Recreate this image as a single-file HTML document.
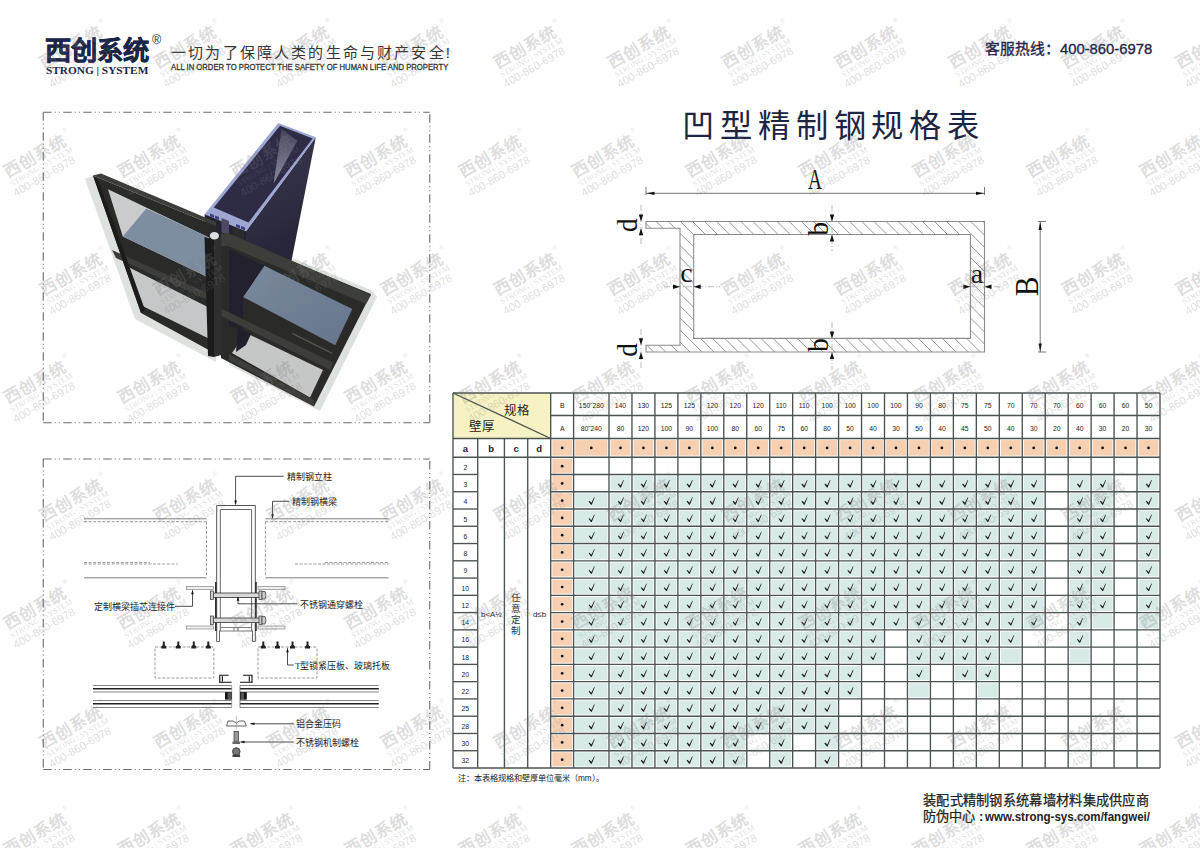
<!DOCTYPE html>
<html lang="zh-CN"><head><meta charset="utf-8">
<style>
html,body{margin:0;padding:0;}
body{width:1200px;height:848px;overflow:hidden;position:relative;background:#fff;font-family:"Liberation Sans",sans-serif;}
.abs{position:absolute;white-space:nowrap;}
svg{position:absolute;left:0;top:0;}
.grid line{stroke:#4a5252;stroke-width:1.35;}
.tn{font-size:7.9px;text-anchor:middle;fill:#1a1a1a;}
.ck{fill:#1a1a1a;} .st{fill:#111;}
.thd{font-size:12.5px;text-anchor:middle;fill:#222;font-weight:500;}
.tz{font-size:9.5px;text-anchor:middle;fill:#333;}
.tl{font-size:9.5px;text-anchor:middle;fill:#1a1a1a;font-weight:bold;}
.ts{font-size:9px;text-anchor:middle;fill:#111;}
.tc{font-size:10px;text-anchor:middle;fill:#222;}

.wm{position:absolute;width:0;height:0;transform:rotate(-30deg);transform-origin:0 0;pointer-events:none;z-index:50;color:rgba(125,125,125,0.27);}
.wm span{position:absolute;white-space:nowrap;}
.w1{left:-2.5px;top:-15px;font-size:16.5px;font-weight:bold;line-height:20px;}
.wr{left:68px;top:-17px;font-size:6px;line-height:8px;}
.w2{left:-3.5px;top:4px;font-family:"Liberation Serif",serif;font-size:8px;line-height:8px;letter-spacing:0.1px;}
.w3{left:-5.5px;top:11px;font-size:11.2px;line-height:12px;}

</style></head><body>
<div class="abs" id="logo" style="left:45px;top:33px;font-size:26.3px;font-weight:900;color:#1b2547;-webkit-text-stroke:0.6px #1b2547;line-height:36px;">西创系统</div>
<div class="abs" id="reg" style="left:152px;top:32.5px;font-size:12.5px;line-height:14px;color:#1b2547;">&#174;</div>
<div class="abs" id="strong" style="left:46px;top:64px;font-family:'Liberation Serif',serif;font-weight:bold;font-size:11.3px;color:#1b2547;line-height:13px;">STRONG | SYSTEM</div>
<div class="abs" id="tag" style="left:171px;top:43px;font-size:15px;font-weight:300;color:#333;letter-spacing:2.17px;line-height:20px;">一切为了保障人类的生命与财产安全!</div>
<div class="abs" id="tagen" style="left:171px;top:62.5px;transform-origin:0 0;transform:scaleX(0.866);font-size:8.9px;font-weight:normal;-webkit-text-stroke:0.3px #333;color:#333;line-height:9px;">ALL IN ORDER TO PROTECT THE SAFETY OF HUMAN LIFE AND PROPERTY</div>
<div class="abs" id="hot" style="left:985px;top:39px;font-size:14.8px;font-weight:500;-webkit-text-stroke:0.35px #1c2448;color:#1c2448;line-height:20px;">客服热线：400-860-6978</div>
<div class="abs" id="title" style="left:682px;top:104.5px;font-size:32.3px;color:#1c2541;letter-spacing:5.9px;line-height:42px;">凹型精制钢规格表</div>
<svg width="1200" height="848">
<path d="M43.25 112.25 L429.75 112.25" stroke="#6a6a6a" stroke-width="1.1" stroke-dasharray="8.5 3 1 3 1 3.5" fill="none"/><path d="M43.25 112.25 L43.25 422.75" stroke="#6a6a6a" stroke-width="1.1" stroke-dasharray="8.5 3 1 3 1 3.5" fill="none"/><path d="M43.25 422.75 L429.75 422.75" stroke="#6a6a6a" stroke-width="1.1" stroke-dasharray="8.5 3 1 3 1 3.5" fill="none"/><path d="M429.75 422.75 L429.75 112.25" stroke="#6a6a6a" stroke-width="1.1" stroke-dasharray="8.5 3 1 3 1 3.5" fill="none"/>
<path d="M43.25 459 L429.75 459" stroke="#6a6a6a" stroke-width="1.1" stroke-dasharray="8.5 3 1 3 1 3.5" fill="none"/><path d="M43.25 459 L43.25 769.5" stroke="#6a6a6a" stroke-width="1.1" stroke-dasharray="8.5 3 1 3 1 3.5" fill="none"/><path d="M43.25 769.5 L429.75 769.5" stroke="#6a6a6a" stroke-width="1.1" stroke-dasharray="8.5 3 1 3 1 3.5" fill="none"/><path d="M429.75 769.5 L429.75 459" stroke="#6a6a6a" stroke-width="1.1" stroke-dasharray="8.5 3 1 3 1 3.5" fill="none"/>
<defs><linearGradient id="colR" x1="0" y1="0" x2="0.3" y2="1"><stop offset="0" stop-color="#393852"/><stop offset="1" stop-color="#272638"/></linearGradient><linearGradient id="wedge" x1="0" y1="0" x2="0" y2="1"><stop offset="0" stop-color="#4a4964"/><stop offset="1" stop-color="#a3a2b6"/></linearGradient><linearGradient id="gB" x1="0" y1="0" x2="1" y2="1"><stop offset="0" stop-color="#7a899e"/><stop offset="1" stop-color="#66758b"/></linearGradient></defs>
<polygon points="85.0,179.0 93.0,175.6 141.0,313.0 216.0,354.0 216.0,362.0 135.0,319.0" fill="#dde2de" />
<polygon points="290.0,257.0 371.0,290.0 377.0,297.0 320.0,411.0 229.0,365.0 229.0,357.0 314.0,406.5 371.0,294.0 292.0,262.0" fill="#dde2de" />
<polygon points="315.8,137.3 291.2,262.3 246.0,245.0 246.0,231.2" fill="url(#colR)" />
<polygon points="278.2,123.0 315.8,137.3 246.0,231.2 204.6,214.3" fill="#9ea6d2" />
<polygon points="280.0,125.8 312.6,138.6 248.5,222.5 213.8,207.6" fill="#2d2b46" />
<polygon points="281.5,129.0 273.6,183.6 297.4,140.7" fill="url(#wedge)" opacity="0.8"/>
<polygon points="204.6,214.3 246.0,231.2 246.0,250.0 204.6,240.0" fill="#23222f" />
<polygon points="210.0,213.5 214.0,215.1 214.0,218.1 210.0,216.5" fill="#3c3f86" />
<polygon points="215.0,215.5 219.0,217.1 219.0,220.1 215.0,218.5" fill="#3c3f86" />
<polygon points="236.0,224.0 240.0,225.6 240.0,228.6 236.0,227.0" fill="#3c3f86" />
<polygon points="241.0,226.0 245.0,227.6 245.0,230.6 241.0,229.0" fill="#3c3f86" />
<polygon points="221.5,218.0 229.0,221.0 229.0,252.0 221.5,249.0" fill="#4b4a66" />
<polygon points="206.0,220.0 216.0,224.0 216.0,240.0 206.0,236.0" fill="#2b2b2e" />
<polygon points="233.0,227.0 244.0,231.5 244.0,247.0 233.0,243.0" fill="#2b2b2e" />
<polygon points="93.0,175.6 216.0,226.0 216.0,354.0 141.0,313.0" fill="#2a2a29" />
<polygon points="93.0,175.6 101.0,173.5 216.0,222.0 216.0,226.0" fill="#3d3d39" />
<polygon points="108.0,189.2 209.0,237.5 207.0,276.7 122.8,236.5" fill="#c9cccd" />
<polygon points="122.8,236.5 146.3,208.6 209.0,237.5 207.0,276.7" fill="#7f8da1" />
<polygon points="112.0,250.0 210.0,294.0 210.0,301.0 116.0,258.0" fill="#3d3d39" />
<polygon points="129.3,267.6 209.7,307.9 209.7,339.0 141.0,305.3" fill="#c5c8c8" />
<polygon points="93.0,175.6 99.0,182.0 145.0,310.0 141.0,313.0" fill="#1c1c1c" />
<polygon points="221.0,232.0 371.0,294.0 314.0,406.5 221.0,358.0" fill="#2a2a29" />
<polygon points="221.0,234.0 228.0,233.0 371.0,295.0 366.0,304.0 228.0,246.0 221.0,246.0" fill="#3d3d39" />
<polygon points="264.3,265.7 352.3,309.0 335.2,345.2 243.0,297.0" fill="url(#gB)" />
<polygon points="229.0,249.0 264.3,265.7 243.0,297.0 243.0,330.0 229.0,326.0" fill="#22212d" />
<polygon points="220.0,308.0 333.0,362.6 330.4,370.0 220.0,315.5" fill="#3d3d39" />
<polygon points="292.5,332.8 332.0,352.6 332.0,354.0 292.5,334.2" fill="#55554f" />
<polygon points="246.0,333.0 323.0,370.0 310.0,397.4 232.0,353.0" fill="#c4c7c6" />
<polygon points="238.0,328.0 251.0,334.0 246.0,345.0 236.0,352.0" fill="#1f1f2b" />
<polygon points="229.0,354.0 314.0,400.0 314.0,406.5 229.0,360.0" fill="#3d3d39" />
<polygon points="204.5,237.0 214.0,240.0 214.0,357.0 208.0,356.0" fill="#1b1b1d" />
<polygon points="214.0,240.0 221.4,237.0 221.4,355.0 214.0,357.0" fill="#2f2f31" />
<ellipse cx="214.4" cy="235.7" rx="4.6" ry="3.8" fill="#dcdedf"/>
<polyline points="283.8,476.3 235.6,476.3 235.6,504.5" stroke="#222" stroke-width="0.8" fill="none"/>
<path d="M235.6 505 L234.29999999999998 500.5 L236.9 500.5 Z" fill="#111"/>
<polyline points="289.5,501.3 272.5,501.3 272.5,518.3" stroke="#222" stroke-width="0.8" fill="none"/>
<path d="M272.5 518.8 L271.2 514.3 L273.8 514.3 Z" fill="#111"/>
<polyline points="216.7,641.5 216.7,505.5 255.3,505.5 255.3,641.5" stroke="#555" stroke-width="1" fill="none"/>
<polyline points="220.3,631 220.3,509.5 251.6,509.5 251.6,631" stroke="#555" stroke-width="0.9" fill="none"/>
<polyline points="220.3,631 219.5,631 219.5,641.5 216.7,641.5" stroke="#555" stroke-width="0.9" fill="none"/>
<polyline points="251.6,631 252.5,631 252.5,641.5 255.3,641.5" stroke="#555" stroke-width="0.9" fill="none"/>
<line x1="220.3" y1="627.5" x2="251.6" y2="627.5" stroke="#707070" stroke-width="0.9" fill="none"/>
<line x1="219.5" y1="631" x2="252.5" y2="631" stroke="#707070" stroke-width="0.9" fill="none"/>
<line x1="234" y1="627.5" x2="234" y2="631" stroke="#707070" stroke-width="0.9" fill="none"/>
<line x1="238" y1="627.5" x2="238" y2="631" stroke="#707070" stroke-width="0.9" fill="none"/>
<line x1="84" y1="518.8" x2="206.5" y2="518.8" stroke="#707070" stroke-width="0.9" fill="none"/>
<line x1="84" y1="521.7" x2="206.5" y2="521.7" stroke="#808080" stroke-width="0.8" fill="none" stroke-dasharray="3 1.6"/>
<line x1="206.5" y1="521.7" x2="206.5" y2="576.9" stroke="#808080" stroke-width="0.8" fill="none" stroke-dasharray="3 1.6"/>
<line x1="84" y1="577.8" x2="206.5" y2="577.8" stroke="#707070" stroke-width="0.9" fill="none"/>
<line x1="84" y1="564" x2="177.6" y2="564" stroke="#808080" stroke-width="0.8" fill="none" stroke-dasharray="3 1.6"/>
<line x1="84" y1="562.5" x2="150" y2="562.5" stroke="#808080" stroke-width="0.8" fill="none" stroke-dasharray="3 1.6"/>
<line x1="265.4" y1="518.8" x2="388.6" y2="518.8" stroke="#707070" stroke-width="0.9" fill="none"/>
<line x1="265.4" y1="521.7" x2="388.6" y2="521.7" stroke="#808080" stroke-width="0.8" fill="none" stroke-dasharray="3 1.6"/>
<line x1="265.4" y1="521.7" x2="265.4" y2="576.9" stroke="#808080" stroke-width="0.8" fill="none" stroke-dasharray="3 1.6"/>
<line x1="265.4" y1="577.8" x2="388.6" y2="577.8" stroke="#707070" stroke-width="0.9" fill="none"/>
<line x1="295" y1="564" x2="388.6" y2="564" stroke="#808080" stroke-width="0.8" fill="none" stroke-dasharray="3 1.6"/>
<line x1="325" y1="562.5" x2="388.6" y2="562.5" stroke="#808080" stroke-width="0.8" fill="none" stroke-dasharray="3 1.6"/>
<line x1="215.8" y1="582" x2="215.8" y2="631" stroke="#1a1a1a" stroke-width="1.4"/>
<line x1="256" y1="582" x2="256" y2="631" stroke="#1a1a1a" stroke-width="1.4"/>
<rect x="186.5" y="586.5" width="27" height="3" fill="#eee" stroke="#888" stroke-width="0.7"/>
<rect x="258" y="586.5" width="27" height="3" fill="#eee" stroke="#888" stroke-width="0.7"/>
<rect x="186.5" y="626" width="27" height="3" fill="#eee" stroke="#888" stroke-width="0.7"/>
<rect x="258" y="626" width="27" height="3" fill="#eee" stroke="#888" stroke-width="0.7"/>
<rect x="213" y="593" width="52" height="4.5" fill="#d8d8d8" stroke="#333" stroke-width="0.8"/>
<rect x="210.5" y="591" width="3" height="8.5" fill="#ccc" stroke="#333" stroke-width="0.7"/>
<rect x="259" y="591" width="3" height="8.5" fill="#ccc" stroke="#333" stroke-width="0.7"/>
<path d="M262 591.5 L265 591.5 Q267 595.25 265 599 L262 599 Z" fill="#ccc" stroke="#333" stroke-width="0.7"/>
<rect x="213" y="618" width="52" height="4.5" fill="#d8d8d8" stroke="#333" stroke-width="0.8"/>
<rect x="210.5" y="616" width="3" height="8.5" fill="#ccc" stroke="#333" stroke-width="0.7"/>
<rect x="259" y="616" width="3" height="8.5" fill="#ccc" stroke="#333" stroke-width="0.7"/>
<path d="M262 616.5 L265 616.5 Q267 620.25 265 624 L262 624 Z" fill="#ccc" stroke="#333" stroke-width="0.7"/>
<polyline points="175,606.3 192.5,606.3 192.5,590.5" stroke="#222" stroke-width="0.8" fill="none"/>
<path d="M192.5 589.8 L191.2 594.3 L193.8 594.3 Z" fill="#111"/>
<polyline points="297.5,603.8 238,603.8 238,597" stroke="#222" stroke-width="0.8" fill="none"/>
<path d="M238 596.3 L236.7 600.8 L239.3 600.8 Z" fill="#111"/>
<path d="M155 648.5 L155 678 L213.8 678 L213.8 648.5" stroke="#808080" stroke-width="0.8" fill="none" stroke-dasharray="3 1.6"/>
<line x1="155" y1="647" x2="213.8" y2="647" stroke="#808080" stroke-width="0.8" fill="none" stroke-dasharray="3 1.6"/>
<path d="M258 648.5 L258 678 L317 678 L317 648.5" stroke="#808080" stroke-width="0.8" fill="none" stroke-dasharray="3 1.6"/>
<line x1="258" y1="647" x2="317" y2="647" stroke="#808080" stroke-width="0.8" fill="none" stroke-dasharray="3 1.6"/>
<path d="M162.8 641.5 L164.8 641.5 L164.8 645 L166.3 646.5 L166.3 648.5 L161.3 648.5 L161.3 646.5 L162.8 645 Z" fill="#222"/>
<path d="M177.3 641.5 L179.3 641.5 L179.3 645 L180.8 646.5 L180.8 648.5 L175.8 648.5 L175.8 646.5 L177.3 645 Z" fill="#222"/>
<path d="M192.8 641.5 L194.8 641.5 L194.8 645 L196.3 646.5 L196.3 648.5 L191.3 648.5 L191.3 646.5 L192.8 645 Z" fill="#222"/>
<path d="M207.3 641.5 L209.3 641.5 L209.3 645 L210.8 646.5 L210.8 648.5 L205.8 648.5 L205.8 646.5 L207.3 645 Z" fill="#222"/>
<path d="M262.3 641.5 L264.3 641.5 L264.3 645 L265.8 646.5 L265.8 648.5 L260.8 648.5 L260.8 646.5 L262.3 645 Z" fill="#222"/>
<path d="M276.5 641.5 L278.5 641.5 L278.5 645 L280.0 646.5 L280.0 648.5 L275.0 648.5 L275.0 646.5 L276.5 645 Z" fill="#222"/>
<path d="M291.5 641.5 L293.5 641.5 L293.5 645 L295.0 646.5 L295.0 648.5 L290.0 648.5 L290.0 646.5 L291.5 645 Z" fill="#222"/>
<path d="M306.5 641.5 L308.5 641.5 L308.5 645 L310.0 646.5 L310.0 648.5 L305.0 648.5 L305.0 646.5 L306.5 645 Z" fill="#222"/>
<polyline points="293.8,665 287.5,665 287.5,648.5" stroke="#222" stroke-width="0.8" fill="none"/>
<path d="M287.5 647.8 L286.2 652.3 L288.8 652.3 Z" fill="#111"/>
<path d="M228.6 675.3 L219.8 675.3 L219.8 683 M219.8 682.2 L231.7 682.2 M222.4 676.3 L222.4 681.5" stroke="#111" stroke-width="1.1" fill="none"/>
<path d="M243.1 675.3 L252 675.3 L252 683 M252 682.2 L240 682.2 M249.3 676.3 L249.3 681.5" stroke="#111" stroke-width="1.1" fill="none"/>
<line x1="93" y1="685.5" x2="231.7" y2="685.5" stroke="#666" stroke-width="0.8"/>
<line x1="93" y1="688.8" x2="231.7" y2="688.8" stroke="#222" stroke-width="1.5"/>
<line x1="93" y1="692" x2="231.7" y2="692" stroke="#666" stroke-width="0.8"/>
<line x1="93" y1="700.5" x2="231.7" y2="700.5" stroke="#666" stroke-width="0.8"/>
<line x1="93" y1="703.8" x2="231.7" y2="703.8" stroke="#222" stroke-width="1.5"/>
<line x1="93" y1="707.5" x2="231.7" y2="707.5" stroke="#666" stroke-width="0.8"/>
<line x1="240" y1="685.5" x2="378.8" y2="685.5" stroke="#666" stroke-width="0.8"/>
<line x1="240" y1="688.8" x2="378.8" y2="688.8" stroke="#222" stroke-width="1.5"/>
<line x1="240" y1="692" x2="378.8" y2="692" stroke="#666" stroke-width="0.8"/>
<line x1="240" y1="700.5" x2="378.8" y2="700.5" stroke="#666" stroke-width="0.8"/>
<line x1="240" y1="703.8" x2="378.8" y2="703.8" stroke="#222" stroke-width="1.5"/>
<line x1="240" y1="707.5" x2="378.8" y2="707.5" stroke="#666" stroke-width="0.8"/>
<line x1="231.7" y1="685.5" x2="231.7" y2="707.5" stroke="#888" stroke-width="0.7"/>
<line x1="240" y1="685.5" x2="240" y2="707.5" stroke="#666" stroke-width="0.8"/>
<rect x="225" y="692.1" width="6.7" height="7.5" fill="#111"/><rect x="227.6" y="692.6" width="3.4" height="6.5" fill="#555"/>
<rect x="240" y="692.1" width="6.8" height="7.5" fill="#111"/><rect x="240.7" y="692.6" width="3.4" height="6.5" fill="#555"/>
<path d="M226.5 726 L228 721 L233 721 L236.3 723 L239.5 721 L244.5 721 L246.3 726 Z" fill="#f4f4f4" stroke="#444" stroke-width="0.8"/>
<line x1="236.3" y1="716" x2="236.3" y2="729" stroke="#999" stroke-width="0.6"/>
<polyline points="293.8,723.8 250.5,723.8" stroke="#222" stroke-width="0.8" fill="none"/>
<path d="M250 723.8 L254.5 722.5 L254.5 725.0999999999999 Z" fill="#111"/>
<rect x="234" y="731.3" width="4.6" height="10" fill="#999" stroke="#333" stroke-width="0.7"/>
<path d="M232.5 741.5 L240 741.5 L240 744 L232.5 744 Z" fill="#666"/>
<polyline points="293.8,742 240.5,742" stroke="#222" stroke-width="0.8" fill="none"/>
<path d="M240 742 L244.5 740.7 L244.5 743.3 Z" fill="#111"/>
<circle cx="236.3" cy="751.5" r="3.8" fill="#777" stroke="#333" stroke-width="0.8"/>
<rect x="232.5" y="754.5" width="7.6" height="2.5" fill="#444"/>
<text x="286.5" y="479.6" font-family="Liberation Serif, serif" font-size="9" fill="#222">精制钢立柱</text>
<text x="291.5" y="505.2" font-family="Liberation Serif, serif" font-size="9" fill="#222">精制钢横梁</text>
<text x="93.8" y="610.2" font-family="Liberation Serif, serif" font-size="9" fill="#222">定制横梁插芯连接件</text>
<text x="300" y="608" font-family="Liberation Serif, serif" font-size="9" fill="#222">不锈钢通穿螺栓</text>
<text x="295" y="668.5" font-family="Liberation Serif, serif" font-size="9" fill="#222">T型锁紧压板、玻璃托板</text>
<text x="295.5" y="727.2" font-family="Liberation Serif, serif" font-size="9" fill="#222">铝合金压码</text>
<text x="295.5" y="746" font-family="Liberation Serif, serif" font-size="9" fill="#222">不锈钢机制螺栓</text>
<defs><clipPath id="pc"><path d="M646.0 221.5 L984.5 221.5 L984.5 352.0 L646.0 352.0 L646.0 345.3 L680.0 345.3 L680.0 228.3 L646.0 228.3 Z M693.7 234.5 L970.4 234.5 L970.4 338.4 L693.7 338.4 Z" clip-rule="evenodd"/></clipPath></defs>
<path clip-path="url(#pc)" d="M506.0 216.5 L646.0 356.5 M518.1 216.5 L658.1 356.5 M530.2 216.5 L670.2 356.5 M542.3 216.5 L682.3 356.5 M554.4 216.5 L694.4 356.5 M566.5 216.5 L706.5 356.5 M578.6 216.5 L718.6 356.5 M590.7 216.5 L730.7 356.5 M602.8 216.5 L742.8 356.5 M614.9 216.5 L754.9 356.5 M627.0 216.5 L767.0 356.5 M639.1 216.5 L779.1 356.5 M651.2 216.5 L791.2 356.5 M663.3 216.5 L803.3 356.5 M675.4 216.5 L815.4 356.5 M687.5 216.5 L827.5 356.5 M699.6 216.5 L839.6 356.5 M711.7 216.5 L851.7 356.5 M723.8 216.5 L863.8 356.5 M735.9 216.5 L875.9 356.5 M748.0 216.5 L888.0 356.5 M760.1 216.5 L900.1 356.5 M772.2 216.5 L912.2 356.5 M784.3 216.5 L924.3 356.5 M796.4 216.5 L936.4 356.5 M808.5 216.5 L948.5 356.5 M820.6 216.5 L960.6 356.5 M832.7 216.5 L972.7 356.5 M844.8 216.5 L984.8 356.5 M856.9 216.5 L996.9 356.5 M869.0 216.5 L1009.0 356.5 M881.1 216.5 L1021.1 356.5 M893.2 216.5 L1033.2 356.5 M905.3 216.5 L1045.3 356.5 M917.4 216.5 L1057.4 356.5 M929.5 216.5 L1069.5 356.5 M941.6 216.5 L1081.6 356.5 M953.7 216.5 L1093.7 356.5 M965.8 216.5 L1105.8 356.5 M977.9 216.5 L1117.9 356.5 M990.0 216.5 L1130.0 356.5" stroke="#8a8a8a" stroke-width="0.9" fill="none"/>
<path d="M646.0 221.5 L984.5 221.5 L984.5 352.0 L646.0 352.0 L646.0 345.3 L680.0 345.3 L680.0 228.3 L646.0 228.3 Z M693.7 234.5 L970.4 234.5 L970.4 338.4 L693.7 338.4 Z" fill="none" stroke="#8c8c8c" stroke-width="1.1"/>
<line x1="641" y1="205" x2="641" y2="245" stroke="#aaa" stroke-width="0.8" stroke-dasharray="6 2 1 2"/>
<line x1="641" y1="329" x2="641" y2="370" stroke="#aaa" stroke-width="0.8" stroke-dasharray="6 2 1 2"/>
<path d="M641 221.5 L638.8 214.5 L643.2 214.5 Z" fill="#111"/>
<path d="M641 228.3 L638.8 235.3 L643.2 235.3 Z" fill="#111"/>
<path d="M641 345.3 L638.8 338.3 L643.2 338.3 Z" fill="#111"/>
<path d="M641 352.0 L638.8 359.0 L643.2 359.0 Z" fill="#111"/>
<line x1="832" y1="205" x2="832" y2="251" stroke="#aaa" stroke-width="0.8" stroke-dasharray="6 2 1 2"/>
<line x1="832" y1="322" x2="832" y2="370" stroke="#aaa" stroke-width="0.8" stroke-dasharray="6 2 1 2"/>
<path d="M832 221.5 L829.8 214.5 L834.2 214.5 Z" fill="#111"/>
<path d="M832 234.5 L829.8 241.5 L834.2 241.5 Z" fill="#111"/>
<path d="M832 338.4 L829.8 331.4 L834.2 331.4 Z" fill="#111"/>
<path d="M832 352.0 L829.8 359.0 L834.2 359.0 Z" fill="#111"/>
<line x1="664" y1="286.7" x2="720" y2="286.7" stroke="#aaa" stroke-width="0.8" stroke-dasharray="6 2 1 2"/>
<path d="M680.0 286.7 L673.0 284.5 L673.0 288.9 Z" fill="#111"/>
<path d="M693.7 286.7 L700.7 284.5 L700.7 288.9 Z" fill="#111"/>
<line x1="961" y1="286.8" x2="1002" y2="286.8" stroke="#aaa" stroke-width="0.8" stroke-dasharray="6 2 1 2"/>
<path d="M970.4 286.8 L963.4 284.6 L963.4 289.0 Z" fill="#111"/>
<path d="M984.5 286.8 L991.5 284.6 L991.5 289.0 Z" fill="#111"/>
<line x1="646.0" y1="193.3" x2="984.5" y2="193.3" stroke="#555" stroke-width="0.8"/>
<line x1="646.0" y1="187" x2="646.0" y2="195" stroke="#555" stroke-width="0.8"/>
<line x1="984.5" y1="187" x2="984.5" y2="195" stroke="#555" stroke-width="0.8"/>
<path d="M646.5 193.3 L654.5 191.70000000000002 L654.5 194.9 Z" fill="#111"/>
<path d="M984.0 193.3 L976.0 191.70000000000002 L976.0 194.9 Z" fill="#111"/>
<line x1="1040.2" y1="221.5" x2="1040.2" y2="352.0" stroke="#555" stroke-width="0.8"/>
<line x1="1038" y1="221.5" x2="1046" y2="221.5" stroke="#555" stroke-width="0.8"/>
<line x1="1038" y1="352.0" x2="1046" y2="352.0" stroke="#555" stroke-width="0.8"/>
<path d="M1040.2 222.0 L1038.6000000000001 230.0 L1041.8 230.0 Z" fill="#111"/>
<path d="M1040.2 351.5 L1038.6000000000001 343.5 L1041.8 343.5 Z" fill="#111"/>
<text x="0" y="0" font-size="28.5" font-family="Liberation Serif, serif" fill="#111" text-anchor="middle" transform="translate(815 189.2) scale(0.68 1)">A</text>
<text x="0" y="0" font-size="33" font-family="Liberation Serif, serif" fill="#111" text-anchor="middle" transform="translate(1037.7 286.3) rotate(-90) scale(0.88 1)">B</text>
<text x="0" y="0" font-size="28" font-family="Liberation Serif, serif" fill="#111" text-anchor="middle" transform="translate(977 282.6) scale(1.0 1)">a</text>
<text x="0" y="0" font-size="28" font-family="Liberation Serif, serif" fill="#111" text-anchor="middle" transform="translate(686.5 282.3) scale(1.0 1)">c</text>
<text x="0" y="0" font-size="30" font-family="Liberation Serif, serif" fill="#111" text-anchor="middle" transform="translate(827.8 228.8) rotate(-90) scale(0.9 1)">b</text>
<text x="0" y="0" font-size="30" font-family="Liberation Serif, serif" fill="#111" text-anchor="middle" transform="translate(827.8 344.9) rotate(-90) scale(0.9 1)">b</text>
<text x="0" y="0" font-size="30" font-family="Liberation Serif, serif" fill="#111" text-anchor="middle" transform="translate(637 225.2) rotate(-90) scale(0.9 1)">d</text>
<text x="0" y="0" font-size="30" font-family="Liberation Serif, serif" fill="#111" text-anchor="middle" transform="translate(637 349.9) rotate(-90) scale(0.9 1)">d</text>
</svg>
<svg width="1200" height="848" class="grid">
<rect x="453" y="393" width="97.70000000000005" height="45.5" fill="#f6f2c3"/>
<rect x="552.30" y="440.10" width="19.70" height="15.50" fill="#f7d0b2"/>
<rect x="575.20" y="440.10" width="32.20" height="15.50" fill="#f7d0b2"/>
<rect x="610.60" y="440.10" width="19.76" height="15.50" fill="#f7d0b2"/>
<rect x="633.56" y="440.10" width="19.76" height="15.50" fill="#f7d0b2"/>
<rect x="656.52" y="440.10" width="19.76" height="15.50" fill="#f7d0b2"/>
<rect x="679.48" y="440.10" width="19.76" height="15.50" fill="#f7d0b2"/>
<rect x="702.43" y="440.10" width="19.76" height="15.50" fill="#f7d0b2"/>
<rect x="725.39" y="440.10" width="19.76" height="15.50" fill="#f7d0b2"/>
<rect x="748.35" y="440.10" width="19.76" height="15.50" fill="#f7d0b2"/>
<rect x="771.31" y="440.10" width="19.76" height="15.50" fill="#f7d0b2"/>
<rect x="794.27" y="440.10" width="19.76" height="15.50" fill="#f7d0b2"/>
<rect x="817.23" y="440.10" width="19.76" height="15.50" fill="#f7d0b2"/>
<rect x="840.18" y="440.10" width="19.76" height="15.50" fill="#f7d0b2"/>
<rect x="863.14" y="440.10" width="19.76" height="15.50" fill="#f7d0b2"/>
<rect x="886.10" y="440.10" width="19.76" height="15.50" fill="#f7d0b2"/>
<rect x="909.06" y="440.10" width="19.76" height="15.50" fill="#f7d0b2"/>
<rect x="932.02" y="440.10" width="19.76" height="15.50" fill="#f7d0b2"/>
<rect x="954.98" y="440.10" width="19.76" height="15.50" fill="#f7d0b2"/>
<rect x="977.93" y="440.10" width="19.76" height="15.50" fill="#f7d0b2"/>
<rect x="1000.89" y="440.10" width="19.76" height="15.50" fill="#f7d0b2"/>
<rect x="1023.85" y="440.10" width="19.76" height="15.50" fill="#f7d0b2"/>
<rect x="1046.81" y="440.10" width="19.76" height="15.50" fill="#f7d0b2"/>
<rect x="1069.77" y="440.10" width="19.76" height="15.50" fill="#f7d0b2"/>
<rect x="1092.72" y="440.10" width="19.76" height="15.50" fill="#f7d0b2"/>
<rect x="1115.68" y="440.10" width="19.76" height="15.50" fill="#f7d0b2"/>
<rect x="1138.64" y="440.10" width="19.76" height="15.50" fill="#f7d0b2"/>
<rect x="552.30" y="458.80" width="19.70" height="14.07" fill="#f7d0b2"/>
<rect x="552.30" y="476.07" width="19.70" height="14.07" fill="#f7d0b2"/>
<rect x="610.60" y="476.07" width="19.76" height="14.07" fill="#d8eae8"/>
<rect x="633.56" y="476.07" width="19.76" height="14.07" fill="#d8eae8"/>
<rect x="656.52" y="476.07" width="19.76" height="14.07" fill="#d8eae8"/>
<rect x="679.48" y="476.07" width="19.76" height="14.07" fill="#d8eae8"/>
<rect x="702.43" y="476.07" width="19.76" height="14.07" fill="#d8eae8"/>
<rect x="725.39" y="476.07" width="19.76" height="14.07" fill="#d8eae8"/>
<rect x="748.35" y="476.07" width="19.76" height="14.07" fill="#d8eae8"/>
<rect x="771.31" y="476.07" width="19.76" height="14.07" fill="#d8eae8"/>
<rect x="794.27" y="476.07" width="19.76" height="14.07" fill="#d8eae8"/>
<rect x="817.23" y="476.07" width="19.76" height="14.07" fill="#d8eae8"/>
<rect x="840.18" y="476.07" width="19.76" height="14.07" fill="#d8eae8"/>
<rect x="863.14" y="476.07" width="19.76" height="14.07" fill="#d8eae8"/>
<rect x="886.10" y="476.07" width="19.76" height="14.07" fill="#d8eae8"/>
<rect x="909.06" y="476.07" width="19.76" height="14.07" fill="#d8eae8"/>
<rect x="932.02" y="476.07" width="19.76" height="14.07" fill="#d8eae8"/>
<rect x="954.98" y="476.07" width="19.76" height="14.07" fill="#d8eae8"/>
<rect x="977.93" y="476.07" width="19.76" height="14.07" fill="#d8eae8"/>
<rect x="1000.89" y="476.07" width="19.76" height="14.07" fill="#d8eae8"/>
<rect x="1023.85" y="476.07" width="19.76" height="14.07" fill="#d8eae8"/>
<rect x="1069.77" y="476.07" width="19.76" height="14.07" fill="#d8eae8"/>
<rect x="1092.72" y="476.07" width="19.76" height="14.07" fill="#d8eae8"/>
<rect x="1138.64" y="476.07" width="19.76" height="14.07" fill="#d8eae8"/>
<rect x="552.30" y="493.33" width="19.70" height="14.07" fill="#f7d0b2"/>
<rect x="575.20" y="493.33" width="32.20" height="14.07" fill="#d8eae8"/>
<rect x="610.60" y="493.33" width="19.76" height="14.07" fill="#d8eae8"/>
<rect x="633.56" y="493.33" width="19.76" height="14.07" fill="#d8eae8"/>
<rect x="656.52" y="493.33" width="19.76" height="14.07" fill="#d8eae8"/>
<rect x="679.48" y="493.33" width="19.76" height="14.07" fill="#d8eae8"/>
<rect x="702.43" y="493.33" width="19.76" height="14.07" fill="#d8eae8"/>
<rect x="725.39" y="493.33" width="19.76" height="14.07" fill="#d8eae8"/>
<rect x="748.35" y="493.33" width="19.76" height="14.07" fill="#d8eae8"/>
<rect x="771.31" y="493.33" width="19.76" height="14.07" fill="#d8eae8"/>
<rect x="794.27" y="493.33" width="19.76" height="14.07" fill="#d8eae8"/>
<rect x="817.23" y="493.33" width="19.76" height="14.07" fill="#d8eae8"/>
<rect x="840.18" y="493.33" width="19.76" height="14.07" fill="#d8eae8"/>
<rect x="863.14" y="493.33" width="19.76" height="14.07" fill="#d8eae8"/>
<rect x="886.10" y="493.33" width="19.76" height="14.07" fill="#d8eae8"/>
<rect x="909.06" y="493.33" width="19.76" height="14.07" fill="#d8eae8"/>
<rect x="932.02" y="493.33" width="19.76" height="14.07" fill="#d8eae8"/>
<rect x="954.98" y="493.33" width="19.76" height="14.07" fill="#d8eae8"/>
<rect x="977.93" y="493.33" width="19.76" height="14.07" fill="#d8eae8"/>
<rect x="1000.89" y="493.33" width="19.76" height="14.07" fill="#d8eae8"/>
<rect x="1023.85" y="493.33" width="19.76" height="14.07" fill="#d8eae8"/>
<rect x="1069.77" y="493.33" width="19.76" height="14.07" fill="#d8eae8"/>
<rect x="1092.72" y="493.33" width="19.76" height="14.07" fill="#d8eae8"/>
<rect x="1138.64" y="493.33" width="19.76" height="14.07" fill="#d8eae8"/>
<rect x="552.30" y="510.60" width="19.70" height="14.07" fill="#f7d0b2"/>
<rect x="575.20" y="510.60" width="32.20" height="14.07" fill="#d8eae8"/>
<rect x="610.60" y="510.60" width="19.76" height="14.07" fill="#d8eae8"/>
<rect x="633.56" y="510.60" width="19.76" height="14.07" fill="#d8eae8"/>
<rect x="656.52" y="510.60" width="19.76" height="14.07" fill="#d8eae8"/>
<rect x="679.48" y="510.60" width="19.76" height="14.07" fill="#d8eae8"/>
<rect x="702.43" y="510.60" width="19.76" height="14.07" fill="#d8eae8"/>
<rect x="725.39" y="510.60" width="19.76" height="14.07" fill="#d8eae8"/>
<rect x="748.35" y="510.60" width="19.76" height="14.07" fill="#d8eae8"/>
<rect x="771.31" y="510.60" width="19.76" height="14.07" fill="#d8eae8"/>
<rect x="794.27" y="510.60" width="19.76" height="14.07" fill="#d8eae8"/>
<rect x="817.23" y="510.60" width="19.76" height="14.07" fill="#d8eae8"/>
<rect x="840.18" y="510.60" width="19.76" height="14.07" fill="#d8eae8"/>
<rect x="863.14" y="510.60" width="19.76" height="14.07" fill="#d8eae8"/>
<rect x="886.10" y="510.60" width="19.76" height="14.07" fill="#d8eae8"/>
<rect x="909.06" y="510.60" width="19.76" height="14.07" fill="#d8eae8"/>
<rect x="932.02" y="510.60" width="19.76" height="14.07" fill="#d8eae8"/>
<rect x="954.98" y="510.60" width="19.76" height="14.07" fill="#d8eae8"/>
<rect x="977.93" y="510.60" width="19.76" height="14.07" fill="#d8eae8"/>
<rect x="1000.89" y="510.60" width="19.76" height="14.07" fill="#d8eae8"/>
<rect x="1023.85" y="510.60" width="19.76" height="14.07" fill="#d8eae8"/>
<rect x="1069.77" y="510.60" width="19.76" height="14.07" fill="#d8eae8"/>
<rect x="1092.72" y="510.60" width="19.76" height="14.07" fill="#d8eae8"/>
<rect x="1138.64" y="510.60" width="19.76" height="14.07" fill="#d8eae8"/>
<rect x="552.30" y="527.87" width="19.70" height="14.07" fill="#f7d0b2"/>
<rect x="575.20" y="527.87" width="32.20" height="14.07" fill="#d8eae8"/>
<rect x="610.60" y="527.87" width="19.76" height="14.07" fill="#d8eae8"/>
<rect x="633.56" y="527.87" width="19.76" height="14.07" fill="#d8eae8"/>
<rect x="656.52" y="527.87" width="19.76" height="14.07" fill="#d8eae8"/>
<rect x="679.48" y="527.87" width="19.76" height="14.07" fill="#d8eae8"/>
<rect x="702.43" y="527.87" width="19.76" height="14.07" fill="#d8eae8"/>
<rect x="725.39" y="527.87" width="19.76" height="14.07" fill="#d8eae8"/>
<rect x="748.35" y="527.87" width="19.76" height="14.07" fill="#d8eae8"/>
<rect x="771.31" y="527.87" width="19.76" height="14.07" fill="#d8eae8"/>
<rect x="794.27" y="527.87" width="19.76" height="14.07" fill="#d8eae8"/>
<rect x="817.23" y="527.87" width="19.76" height="14.07" fill="#d8eae8"/>
<rect x="840.18" y="527.87" width="19.76" height="14.07" fill="#d8eae8"/>
<rect x="863.14" y="527.87" width="19.76" height="14.07" fill="#d8eae8"/>
<rect x="886.10" y="527.87" width="19.76" height="14.07" fill="#d8eae8"/>
<rect x="909.06" y="527.87" width="19.76" height="14.07" fill="#d8eae8"/>
<rect x="932.02" y="527.87" width="19.76" height="14.07" fill="#d8eae8"/>
<rect x="954.98" y="527.87" width="19.76" height="14.07" fill="#d8eae8"/>
<rect x="977.93" y="527.87" width="19.76" height="14.07" fill="#d8eae8"/>
<rect x="1000.89" y="527.87" width="19.76" height="14.07" fill="#d8eae8"/>
<rect x="1023.85" y="527.87" width="19.76" height="14.07" fill="#d8eae8"/>
<rect x="1069.77" y="527.87" width="19.76" height="14.07" fill="#d8eae8"/>
<rect x="1092.72" y="527.87" width="19.76" height="14.07" fill="#d8eae8"/>
<rect x="1138.64" y="527.87" width="19.76" height="14.07" fill="#d8eae8"/>
<rect x="552.30" y="545.13" width="19.70" height="14.07" fill="#f7d0b2"/>
<rect x="575.20" y="545.13" width="32.20" height="14.07" fill="#d8eae8"/>
<rect x="610.60" y="545.13" width="19.76" height="14.07" fill="#d8eae8"/>
<rect x="633.56" y="545.13" width="19.76" height="14.07" fill="#d8eae8"/>
<rect x="656.52" y="545.13" width="19.76" height="14.07" fill="#d8eae8"/>
<rect x="679.48" y="545.13" width="19.76" height="14.07" fill="#d8eae8"/>
<rect x="702.43" y="545.13" width="19.76" height="14.07" fill="#d8eae8"/>
<rect x="725.39" y="545.13" width="19.76" height="14.07" fill="#d8eae8"/>
<rect x="748.35" y="545.13" width="19.76" height="14.07" fill="#d8eae8"/>
<rect x="771.31" y="545.13" width="19.76" height="14.07" fill="#d8eae8"/>
<rect x="794.27" y="545.13" width="19.76" height="14.07" fill="#d8eae8"/>
<rect x="817.23" y="545.13" width="19.76" height="14.07" fill="#d8eae8"/>
<rect x="840.18" y="545.13" width="19.76" height="14.07" fill="#d8eae8"/>
<rect x="863.14" y="545.13" width="19.76" height="14.07" fill="#d8eae8"/>
<rect x="886.10" y="545.13" width="19.76" height="14.07" fill="#d8eae8"/>
<rect x="909.06" y="545.13" width="19.76" height="14.07" fill="#d8eae8"/>
<rect x="932.02" y="545.13" width="19.76" height="14.07" fill="#d8eae8"/>
<rect x="954.98" y="545.13" width="19.76" height="14.07" fill="#d8eae8"/>
<rect x="977.93" y="545.13" width="19.76" height="14.07" fill="#d8eae8"/>
<rect x="1000.89" y="545.13" width="19.76" height="14.07" fill="#d8eae8"/>
<rect x="1023.85" y="545.13" width="19.76" height="14.07" fill="#d8eae8"/>
<rect x="1069.77" y="545.13" width="19.76" height="14.07" fill="#d8eae8"/>
<rect x="1092.72" y="545.13" width="19.76" height="14.07" fill="#d8eae8"/>
<rect x="1138.64" y="545.13" width="19.76" height="14.07" fill="#d8eae8"/>
<rect x="552.30" y="562.40" width="19.70" height="14.07" fill="#f7d0b2"/>
<rect x="575.20" y="562.40" width="32.20" height="14.07" fill="#d8eae8"/>
<rect x="610.60" y="562.40" width="19.76" height="14.07" fill="#d8eae8"/>
<rect x="633.56" y="562.40" width="19.76" height="14.07" fill="#d8eae8"/>
<rect x="656.52" y="562.40" width="19.76" height="14.07" fill="#d8eae8"/>
<rect x="679.48" y="562.40" width="19.76" height="14.07" fill="#d8eae8"/>
<rect x="702.43" y="562.40" width="19.76" height="14.07" fill="#d8eae8"/>
<rect x="725.39" y="562.40" width="19.76" height="14.07" fill="#d8eae8"/>
<rect x="748.35" y="562.40" width="19.76" height="14.07" fill="#d8eae8"/>
<rect x="771.31" y="562.40" width="19.76" height="14.07" fill="#d8eae8"/>
<rect x="794.27" y="562.40" width="19.76" height="14.07" fill="#d8eae8"/>
<rect x="817.23" y="562.40" width="19.76" height="14.07" fill="#d8eae8"/>
<rect x="840.18" y="562.40" width="19.76" height="14.07" fill="#d8eae8"/>
<rect x="863.14" y="562.40" width="19.76" height="14.07" fill="#d8eae8"/>
<rect x="886.10" y="562.40" width="19.76" height="14.07" fill="#d8eae8"/>
<rect x="909.06" y="562.40" width="19.76" height="14.07" fill="#d8eae8"/>
<rect x="932.02" y="562.40" width="19.76" height="14.07" fill="#d8eae8"/>
<rect x="954.98" y="562.40" width="19.76" height="14.07" fill="#d8eae8"/>
<rect x="977.93" y="562.40" width="19.76" height="14.07" fill="#d8eae8"/>
<rect x="1000.89" y="562.40" width="19.76" height="14.07" fill="#d8eae8"/>
<rect x="1023.85" y="562.40" width="19.76" height="14.07" fill="#d8eae8"/>
<rect x="1069.77" y="562.40" width="19.76" height="14.07" fill="#d8eae8"/>
<rect x="1092.72" y="562.40" width="19.76" height="14.07" fill="#d8eae8"/>
<rect x="1138.64" y="562.40" width="19.76" height="14.07" fill="#d8eae8"/>
<rect x="552.30" y="579.67" width="19.70" height="14.07" fill="#f7d0b2"/>
<rect x="575.20" y="579.67" width="32.20" height="14.07" fill="#d8eae8"/>
<rect x="610.60" y="579.67" width="19.76" height="14.07" fill="#d8eae8"/>
<rect x="633.56" y="579.67" width="19.76" height="14.07" fill="#d8eae8"/>
<rect x="656.52" y="579.67" width="19.76" height="14.07" fill="#d8eae8"/>
<rect x="679.48" y="579.67" width="19.76" height="14.07" fill="#d8eae8"/>
<rect x="702.43" y="579.67" width="19.76" height="14.07" fill="#d8eae8"/>
<rect x="725.39" y="579.67" width="19.76" height="14.07" fill="#d8eae8"/>
<rect x="748.35" y="579.67" width="19.76" height="14.07" fill="#d8eae8"/>
<rect x="771.31" y="579.67" width="19.76" height="14.07" fill="#d8eae8"/>
<rect x="794.27" y="579.67" width="19.76" height="14.07" fill="#d8eae8"/>
<rect x="817.23" y="579.67" width="19.76" height="14.07" fill="#d8eae8"/>
<rect x="840.18" y="579.67" width="19.76" height="14.07" fill="#d8eae8"/>
<rect x="863.14" y="579.67" width="19.76" height="14.07" fill="#d8eae8"/>
<rect x="886.10" y="579.67" width="19.76" height="14.07" fill="#d8eae8"/>
<rect x="909.06" y="579.67" width="19.76" height="14.07" fill="#d8eae8"/>
<rect x="932.02" y="579.67" width="19.76" height="14.07" fill="#d8eae8"/>
<rect x="954.98" y="579.67" width="19.76" height="14.07" fill="#d8eae8"/>
<rect x="977.93" y="579.67" width="19.76" height="14.07" fill="#d8eae8"/>
<rect x="1000.89" y="579.67" width="19.76" height="14.07" fill="#d8eae8"/>
<rect x="1023.85" y="579.67" width="19.76" height="14.07" fill="#d8eae8"/>
<rect x="1069.77" y="579.67" width="19.76" height="14.07" fill="#d8eae8"/>
<rect x="1092.72" y="579.67" width="19.76" height="14.07" fill="#d8eae8"/>
<rect x="1138.64" y="579.67" width="19.76" height="14.07" fill="#d8eae8"/>
<rect x="552.30" y="596.93" width="19.70" height="14.07" fill="#f7d0b2"/>
<rect x="575.20" y="596.93" width="32.20" height="14.07" fill="#d8eae8"/>
<rect x="610.60" y="596.93" width="19.76" height="14.07" fill="#d8eae8"/>
<rect x="633.56" y="596.93" width="19.76" height="14.07" fill="#d8eae8"/>
<rect x="656.52" y="596.93" width="19.76" height="14.07" fill="#d8eae8"/>
<rect x="679.48" y="596.93" width="19.76" height="14.07" fill="#d8eae8"/>
<rect x="702.43" y="596.93" width="19.76" height="14.07" fill="#d8eae8"/>
<rect x="725.39" y="596.93" width="19.76" height="14.07" fill="#d8eae8"/>
<rect x="748.35" y="596.93" width="19.76" height="14.07" fill="#d8eae8"/>
<rect x="771.31" y="596.93" width="19.76" height="14.07" fill="#d8eae8"/>
<rect x="794.27" y="596.93" width="19.76" height="14.07" fill="#d8eae8"/>
<rect x="817.23" y="596.93" width="19.76" height="14.07" fill="#d8eae8"/>
<rect x="840.18" y="596.93" width="19.76" height="14.07" fill="#d8eae8"/>
<rect x="863.14" y="596.93" width="19.76" height="14.07" fill="#d8eae8"/>
<rect x="886.10" y="596.93" width="19.76" height="14.07" fill="#d8eae8"/>
<rect x="909.06" y="596.93" width="19.76" height="14.07" fill="#d8eae8"/>
<rect x="932.02" y="596.93" width="19.76" height="14.07" fill="#d8eae8"/>
<rect x="954.98" y="596.93" width="19.76" height="14.07" fill="#d8eae8"/>
<rect x="977.93" y="596.93" width="19.76" height="14.07" fill="#d8eae8"/>
<rect x="1000.89" y="596.93" width="19.76" height="14.07" fill="#d8eae8"/>
<rect x="1023.85" y="596.93" width="19.76" height="14.07" fill="#d8eae8"/>
<rect x="1069.77" y="596.93" width="19.76" height="14.07" fill="#d8eae8"/>
<rect x="1092.72" y="596.93" width="19.76" height="14.07" fill="#d8eae8"/>
<rect x="1138.64" y="596.93" width="19.76" height="14.07" fill="#d8eae8"/>
<rect x="552.30" y="614.20" width="19.70" height="14.07" fill="#f7d0b2"/>
<rect x="575.20" y="614.20" width="32.20" height="14.07" fill="#d8eae8"/>
<rect x="610.60" y="614.20" width="19.76" height="14.07" fill="#d8eae8"/>
<rect x="633.56" y="614.20" width="19.76" height="14.07" fill="#d8eae8"/>
<rect x="656.52" y="614.20" width="19.76" height="14.07" fill="#d8eae8"/>
<rect x="679.48" y="614.20" width="19.76" height="14.07" fill="#d8eae8"/>
<rect x="702.43" y="614.20" width="19.76" height="14.07" fill="#d8eae8"/>
<rect x="725.39" y="614.20" width="19.76" height="14.07" fill="#d8eae8"/>
<rect x="748.35" y="614.20" width="19.76" height="14.07" fill="#d8eae8"/>
<rect x="771.31" y="614.20" width="19.76" height="14.07" fill="#d8eae8"/>
<rect x="794.27" y="614.20" width="19.76" height="14.07" fill="#d8eae8"/>
<rect x="817.23" y="614.20" width="19.76" height="14.07" fill="#d8eae8"/>
<rect x="840.18" y="614.20" width="19.76" height="14.07" fill="#d8eae8"/>
<rect x="863.14" y="614.20" width="19.76" height="14.07" fill="#d8eae8"/>
<rect x="886.10" y="614.20" width="19.76" height="14.07" fill="#d8eae8"/>
<rect x="909.06" y="614.20" width="19.76" height="14.07" fill="#d8eae8"/>
<rect x="932.02" y="614.20" width="19.76" height="14.07" fill="#d8eae8"/>
<rect x="954.98" y="614.20" width="19.76" height="14.07" fill="#d8eae8"/>
<rect x="977.93" y="614.20" width="19.76" height="14.07" fill="#d8eae8"/>
<rect x="1000.89" y="614.20" width="19.76" height="14.07" fill="#d8eae8"/>
<rect x="1023.85" y="614.20" width="19.76" height="14.07" fill="#d8eae8"/>
<rect x="1069.77" y="614.20" width="19.76" height="14.07" fill="#d8eae8"/>
<rect x="1092.72" y="614.20" width="19.76" height="14.07" fill="#d8eae8"/>
<rect x="1138.64" y="614.20" width="19.76" height="14.07" fill="#d8eae8"/>
<rect x="552.30" y="631.47" width="19.70" height="14.07" fill="#f7d0b2"/>
<rect x="575.20" y="631.47" width="32.20" height="14.07" fill="#d8eae8"/>
<rect x="610.60" y="631.47" width="19.76" height="14.07" fill="#d8eae8"/>
<rect x="633.56" y="631.47" width="19.76" height="14.07" fill="#d8eae8"/>
<rect x="656.52" y="631.47" width="19.76" height="14.07" fill="#d8eae8"/>
<rect x="679.48" y="631.47" width="19.76" height="14.07" fill="#d8eae8"/>
<rect x="702.43" y="631.47" width="19.76" height="14.07" fill="#d8eae8"/>
<rect x="725.39" y="631.47" width="19.76" height="14.07" fill="#d8eae8"/>
<rect x="748.35" y="631.47" width="19.76" height="14.07" fill="#d8eae8"/>
<rect x="771.31" y="631.47" width="19.76" height="14.07" fill="#d8eae8"/>
<rect x="794.27" y="631.47" width="19.76" height="14.07" fill="#d8eae8"/>
<rect x="817.23" y="631.47" width="19.76" height="14.07" fill="#d8eae8"/>
<rect x="840.18" y="631.47" width="19.76" height="14.07" fill="#d8eae8"/>
<rect x="863.14" y="631.47" width="19.76" height="14.07" fill="#d8eae8"/>
<rect x="909.06" y="631.47" width="19.76" height="14.07" fill="#d8eae8"/>
<rect x="932.02" y="631.47" width="19.76" height="14.07" fill="#d8eae8"/>
<rect x="954.98" y="631.47" width="19.76" height="14.07" fill="#d8eae8"/>
<rect x="977.93" y="631.47" width="19.76" height="14.07" fill="#d8eae8"/>
<rect x="1000.89" y="631.47" width="19.76" height="14.07" fill="#d8eae8"/>
<rect x="1069.77" y="631.47" width="19.76" height="14.07" fill="#d8eae8"/>
<rect x="552.30" y="648.73" width="19.70" height="14.07" fill="#f7d0b2"/>
<rect x="575.20" y="648.73" width="32.20" height="14.07" fill="#d8eae8"/>
<rect x="610.60" y="648.73" width="19.76" height="14.07" fill="#d8eae8"/>
<rect x="633.56" y="648.73" width="19.76" height="14.07" fill="#d8eae8"/>
<rect x="656.52" y="648.73" width="19.76" height="14.07" fill="#d8eae8"/>
<rect x="679.48" y="648.73" width="19.76" height="14.07" fill="#d8eae8"/>
<rect x="702.43" y="648.73" width="19.76" height="14.07" fill="#d8eae8"/>
<rect x="725.39" y="648.73" width="19.76" height="14.07" fill="#d8eae8"/>
<rect x="748.35" y="648.73" width="19.76" height="14.07" fill="#d8eae8"/>
<rect x="771.31" y="648.73" width="19.76" height="14.07" fill="#d8eae8"/>
<rect x="794.27" y="648.73" width="19.76" height="14.07" fill="#d8eae8"/>
<rect x="817.23" y="648.73" width="19.76" height="14.07" fill="#d8eae8"/>
<rect x="840.18" y="648.73" width="19.76" height="14.07" fill="#d8eae8"/>
<rect x="863.14" y="648.73" width="19.76" height="14.07" fill="#d8eae8"/>
<rect x="909.06" y="648.73" width="19.76" height="14.07" fill="#d8eae8"/>
<rect x="932.02" y="648.73" width="19.76" height="14.07" fill="#d8eae8"/>
<rect x="954.98" y="648.73" width="19.76" height="14.07" fill="#d8eae8"/>
<rect x="977.93" y="648.73" width="19.76" height="14.07" fill="#d8eae8"/>
<rect x="1000.89" y="648.73" width="19.76" height="14.07" fill="#d8eae8"/>
<rect x="1069.77" y="648.73" width="19.76" height="14.07" fill="#d8eae8"/>
<rect x="552.30" y="666.00" width="19.70" height="14.07" fill="#f7d0b2"/>
<rect x="575.20" y="666.00" width="32.20" height="14.07" fill="#d8eae8"/>
<rect x="610.60" y="666.00" width="19.76" height="14.07" fill="#d8eae8"/>
<rect x="633.56" y="666.00" width="19.76" height="14.07" fill="#d8eae8"/>
<rect x="656.52" y="666.00" width="19.76" height="14.07" fill="#d8eae8"/>
<rect x="679.48" y="666.00" width="19.76" height="14.07" fill="#d8eae8"/>
<rect x="702.43" y="666.00" width="19.76" height="14.07" fill="#d8eae8"/>
<rect x="725.39" y="666.00" width="19.76" height="14.07" fill="#d8eae8"/>
<rect x="748.35" y="666.00" width="19.76" height="14.07" fill="#d8eae8"/>
<rect x="771.31" y="666.00" width="19.76" height="14.07" fill="#d8eae8"/>
<rect x="794.27" y="666.00" width="19.76" height="14.07" fill="#d8eae8"/>
<rect x="817.23" y="666.00" width="19.76" height="14.07" fill="#d8eae8"/>
<rect x="840.18" y="666.00" width="19.76" height="14.07" fill="#d8eae8"/>
<rect x="909.06" y="666.00" width="19.76" height="14.07" fill="#d8eae8"/>
<rect x="954.98" y="666.00" width="19.76" height="14.07" fill="#d8eae8"/>
<rect x="977.93" y="666.00" width="19.76" height="14.07" fill="#d8eae8"/>
<rect x="552.30" y="683.27" width="19.70" height="14.07" fill="#f7d0b2"/>
<rect x="575.20" y="683.27" width="32.20" height="14.07" fill="#d8eae8"/>
<rect x="610.60" y="683.27" width="19.76" height="14.07" fill="#d8eae8"/>
<rect x="633.56" y="683.27" width="19.76" height="14.07" fill="#d8eae8"/>
<rect x="656.52" y="683.27" width="19.76" height="14.07" fill="#d8eae8"/>
<rect x="679.48" y="683.27" width="19.76" height="14.07" fill="#d8eae8"/>
<rect x="702.43" y="683.27" width="19.76" height="14.07" fill="#d8eae8"/>
<rect x="725.39" y="683.27" width="19.76" height="14.07" fill="#d8eae8"/>
<rect x="748.35" y="683.27" width="19.76" height="14.07" fill="#d8eae8"/>
<rect x="771.31" y="683.27" width="19.76" height="14.07" fill="#d8eae8"/>
<rect x="794.27" y="683.27" width="19.76" height="14.07" fill="#d8eae8"/>
<rect x="817.23" y="683.27" width="19.76" height="14.07" fill="#d8eae8"/>
<rect x="840.18" y="683.27" width="19.76" height="14.07" fill="#d8eae8"/>
<rect x="909.06" y="683.27" width="19.76" height="14.07" fill="#d8eae8"/>
<rect x="977.93" y="683.27" width="19.76" height="14.07" fill="#d8eae8"/>
<rect x="552.30" y="700.53" width="19.70" height="14.07" fill="#f7d0b2"/>
<rect x="575.20" y="700.53" width="32.20" height="14.07" fill="#d8eae8"/>
<rect x="610.60" y="700.53" width="19.76" height="14.07" fill="#d8eae8"/>
<rect x="633.56" y="700.53" width="19.76" height="14.07" fill="#d8eae8"/>
<rect x="656.52" y="700.53" width="19.76" height="14.07" fill="#d8eae8"/>
<rect x="679.48" y="700.53" width="19.76" height="14.07" fill="#d8eae8"/>
<rect x="702.43" y="700.53" width="19.76" height="14.07" fill="#d8eae8"/>
<rect x="725.39" y="700.53" width="19.76" height="14.07" fill="#d8eae8"/>
<rect x="748.35" y="700.53" width="19.76" height="14.07" fill="#d8eae8"/>
<rect x="771.31" y="700.53" width="19.76" height="14.07" fill="#d8eae8"/>
<rect x="794.27" y="700.53" width="19.76" height="14.07" fill="#d8eae8"/>
<rect x="817.23" y="700.53" width="19.76" height="14.07" fill="#d8eae8"/>
<rect x="552.30" y="717.80" width="19.70" height="14.07" fill="#f7d0b2"/>
<rect x="575.20" y="717.80" width="32.20" height="14.07" fill="#d8eae8"/>
<rect x="610.60" y="717.80" width="19.76" height="14.07" fill="#d8eae8"/>
<rect x="633.56" y="717.80" width="19.76" height="14.07" fill="#d8eae8"/>
<rect x="656.52" y="717.80" width="19.76" height="14.07" fill="#d8eae8"/>
<rect x="679.48" y="717.80" width="19.76" height="14.07" fill="#d8eae8"/>
<rect x="702.43" y="717.80" width="19.76" height="14.07" fill="#d8eae8"/>
<rect x="725.39" y="717.80" width="19.76" height="14.07" fill="#d8eae8"/>
<rect x="748.35" y="717.80" width="19.76" height="14.07" fill="#d8eae8"/>
<rect x="771.31" y="717.80" width="19.76" height="14.07" fill="#d8eae8"/>
<rect x="794.27" y="717.80" width="19.76" height="14.07" fill="#d8eae8"/>
<rect x="817.23" y="717.80" width="19.76" height="14.07" fill="#d8eae8"/>
<rect x="552.30" y="735.07" width="19.70" height="14.07" fill="#f7d0b2"/>
<rect x="575.20" y="735.07" width="32.20" height="14.07" fill="#d8eae8"/>
<rect x="610.60" y="735.07" width="19.76" height="14.07" fill="#d8eae8"/>
<rect x="633.56" y="735.07" width="19.76" height="14.07" fill="#d8eae8"/>
<rect x="656.52" y="735.07" width="19.76" height="14.07" fill="#d8eae8"/>
<rect x="679.48" y="735.07" width="19.76" height="14.07" fill="#d8eae8"/>
<rect x="702.43" y="735.07" width="19.76" height="14.07" fill="#d8eae8"/>
<rect x="725.39" y="735.07" width="19.76" height="14.07" fill="#d8eae8"/>
<rect x="771.31" y="735.07" width="19.76" height="14.07" fill="#d8eae8"/>
<rect x="817.23" y="735.07" width="19.76" height="14.07" fill="#d8eae8"/>
<rect x="552.30" y="752.33" width="19.70" height="14.07" fill="#f7d0b2"/>
<rect x="575.20" y="752.33" width="32.20" height="14.07" fill="#d8eae8"/>
<rect x="610.60" y="752.33" width="19.76" height="14.07" fill="#d8eae8"/>
<rect x="633.56" y="752.33" width="19.76" height="14.07" fill="#d8eae8"/>
<rect x="656.52" y="752.33" width="19.76" height="14.07" fill="#d8eae8"/>
<rect x="679.48" y="752.33" width="19.76" height="14.07" fill="#d8eae8"/>
<rect x="702.43" y="752.33" width="19.76" height="14.07" fill="#d8eae8"/>
<rect x="725.39" y="752.33" width="19.76" height="14.07" fill="#d8eae8"/>
<rect x="771.31" y="752.33" width="19.76" height="14.07" fill="#d8eae8"/>
<rect x="817.23" y="752.33" width="19.76" height="14.07" fill="#d8eae8"/>
<line x1="453.00" y1="393.00" x2="1160.00" y2="393.00"/>
<line x1="453.00" y1="768.00" x2="1160.00" y2="768.00"/>
<line x1="453.00" y1="393.00" x2="453.00" y2="768.00"/>
<line x1="1160.00" y1="393.00" x2="1160.00" y2="768.00"/>
<line x1="550.70" y1="415.50" x2="1160.00" y2="415.50"/>
<line x1="453.00" y1="438.50" x2="1160.00" y2="438.50"/>
<line x1="453.00" y1="457.20" x2="1160.00" y2="457.20"/>
<line x1="453.00" y1="474.47" x2="477.70" y2="474.47"/>
<line x1="550.70" y1="474.47" x2="1160.00" y2="474.47"/>
<line x1="453.00" y1="491.73" x2="477.70" y2="491.73"/>
<line x1="550.70" y1="491.73" x2="1160.00" y2="491.73"/>
<line x1="453.00" y1="509.00" x2="477.70" y2="509.00"/>
<line x1="550.70" y1="509.00" x2="1160.00" y2="509.00"/>
<line x1="453.00" y1="526.27" x2="477.70" y2="526.27"/>
<line x1="550.70" y1="526.27" x2="1160.00" y2="526.27"/>
<line x1="453.00" y1="543.53" x2="477.70" y2="543.53"/>
<line x1="550.70" y1="543.53" x2="1160.00" y2="543.53"/>
<line x1="453.00" y1="560.80" x2="477.70" y2="560.80"/>
<line x1="550.70" y1="560.80" x2="1160.00" y2="560.80"/>
<line x1="453.00" y1="578.07" x2="477.70" y2="578.07"/>
<line x1="550.70" y1="578.07" x2="1160.00" y2="578.07"/>
<line x1="453.00" y1="595.33" x2="477.70" y2="595.33"/>
<line x1="550.70" y1="595.33" x2="1160.00" y2="595.33"/>
<line x1="453.00" y1="612.60" x2="477.70" y2="612.60"/>
<line x1="550.70" y1="612.60" x2="1160.00" y2="612.60"/>
<line x1="453.00" y1="629.87" x2="477.70" y2="629.87"/>
<line x1="550.70" y1="629.87" x2="1160.00" y2="629.87"/>
<line x1="453.00" y1="647.13" x2="477.70" y2="647.13"/>
<line x1="550.70" y1="647.13" x2="1160.00" y2="647.13"/>
<line x1="453.00" y1="664.40" x2="477.70" y2="664.40"/>
<line x1="550.70" y1="664.40" x2="1160.00" y2="664.40"/>
<line x1="453.00" y1="681.67" x2="477.70" y2="681.67"/>
<line x1="550.70" y1="681.67" x2="1160.00" y2="681.67"/>
<line x1="453.00" y1="698.93" x2="477.70" y2="698.93"/>
<line x1="550.70" y1="698.93" x2="1160.00" y2="698.93"/>
<line x1="453.00" y1="716.20" x2="477.70" y2="716.20"/>
<line x1="550.70" y1="716.20" x2="1160.00" y2="716.20"/>
<line x1="453.00" y1="733.47" x2="477.70" y2="733.47"/>
<line x1="550.70" y1="733.47" x2="1160.00" y2="733.47"/>
<line x1="453.00" y1="750.73" x2="477.70" y2="750.73"/>
<line x1="550.70" y1="750.73" x2="1160.00" y2="750.73"/>
<line x1="477.70" y1="438.50" x2="477.70" y2="768.00"/>
<line x1="504.40" y1="438.50" x2="504.40" y2="768.00"/>
<line x1="527.70" y1="438.50" x2="527.70" y2="768.00"/>
<line x1="550.70" y1="393.00" x2="550.70" y2="768.00"/>
<line x1="573.60" y1="393.00" x2="573.60" y2="768.00"/>
<line x1="609.00" y1="393.00" x2="609.00" y2="768.00"/>
<line x1="631.96" y1="393.00" x2="631.96" y2="768.00"/>
<line x1="654.92" y1="393.00" x2="654.92" y2="768.00"/>
<line x1="677.88" y1="393.00" x2="677.88" y2="768.00"/>
<line x1="700.83" y1="393.00" x2="700.83" y2="768.00"/>
<line x1="723.79" y1="393.00" x2="723.79" y2="768.00"/>
<line x1="746.75" y1="393.00" x2="746.75" y2="768.00"/>
<line x1="769.71" y1="393.00" x2="769.71" y2="768.00"/>
<line x1="792.67" y1="393.00" x2="792.67" y2="768.00"/>
<line x1="815.62" y1="393.00" x2="815.62" y2="768.00"/>
<line x1="838.58" y1="393.00" x2="838.58" y2="768.00"/>
<line x1="861.54" y1="393.00" x2="861.54" y2="768.00"/>
<line x1="884.50" y1="393.00" x2="884.50" y2="768.00"/>
<line x1="907.46" y1="393.00" x2="907.46" y2="768.00"/>
<line x1="930.42" y1="393.00" x2="930.42" y2="768.00"/>
<line x1="953.38" y1="393.00" x2="953.38" y2="768.00"/>
<line x1="976.33" y1="393.00" x2="976.33" y2="768.00"/>
<line x1="999.29" y1="393.00" x2="999.29" y2="768.00"/>
<line x1="1022.25" y1="393.00" x2="1022.25" y2="768.00"/>
<line x1="1045.21" y1="393.00" x2="1045.21" y2="768.00"/>
<line x1="1068.17" y1="393.00" x2="1068.17" y2="768.00"/>
<line x1="1091.12" y1="393.00" x2="1091.12" y2="768.00"/>
<line x1="1114.08" y1="393.00" x2="1114.08" y2="768.00"/>
<line x1="1137.04" y1="393.00" x2="1137.04" y2="768.00"/>
<line x1="453" y1="393" x2="550.7" y2="438.5"/>
<text transform="translate(562.15 407.80) scale(0.86 1)" class="tn">B</text>
<text transform="translate(562.15 430.90) scale(0.86 1)" class="tn">A</text>
<text transform="translate(591.30 407.80) scale(0.86 1)" class="tn">150&#732;280</text>
<text transform="translate(591.30 430.90) scale(0.86 1)" class="tn">80&#732;240</text>
<text transform="translate(620.48 407.80) scale(0.86 1)" class="tn">140</text>
<text transform="translate(620.48 430.90) scale(0.86 1)" class="tn">80</text>
<text transform="translate(643.44 407.80) scale(0.86 1)" class="tn">130</text>
<text transform="translate(643.44 430.90) scale(0.86 1)" class="tn">120</text>
<text transform="translate(666.40 407.80) scale(0.86 1)" class="tn">125</text>
<text transform="translate(666.40 430.90) scale(0.86 1)" class="tn">100</text>
<text transform="translate(689.35 407.80) scale(0.86 1)" class="tn">125</text>
<text transform="translate(689.35 430.90) scale(0.86 1)" class="tn">90</text>
<text transform="translate(712.31 407.80) scale(0.86 1)" class="tn">120</text>
<text transform="translate(712.31 430.90) scale(0.86 1)" class="tn">100</text>
<text transform="translate(735.27 407.80) scale(0.86 1)" class="tn">120</text>
<text transform="translate(735.27 430.90) scale(0.86 1)" class="tn">80</text>
<text transform="translate(758.23 407.80) scale(0.86 1)" class="tn">120</text>
<text transform="translate(758.23 430.90) scale(0.86 1)" class="tn">60</text>
<text transform="translate(781.19 407.80) scale(0.86 1)" class="tn">110</text>
<text transform="translate(781.19 430.90) scale(0.86 1)" class="tn">75</text>
<text transform="translate(804.15 407.80) scale(0.86 1)" class="tn">110</text>
<text transform="translate(804.15 430.90) scale(0.86 1)" class="tn">60</text>
<text transform="translate(827.10 407.80) scale(0.86 1)" class="tn">100</text>
<text transform="translate(827.10 430.90) scale(0.86 1)" class="tn">80</text>
<text transform="translate(850.06 407.80) scale(0.86 1)" class="tn">100</text>
<text transform="translate(850.06 430.90) scale(0.86 1)" class="tn">50</text>
<text transform="translate(873.02 407.80) scale(0.86 1)" class="tn">100</text>
<text transform="translate(873.02 430.90) scale(0.86 1)" class="tn">40</text>
<text transform="translate(895.98 407.80) scale(0.86 1)" class="tn">100</text>
<text transform="translate(895.98 430.90) scale(0.86 1)" class="tn">30</text>
<text transform="translate(918.94 407.80) scale(0.86 1)" class="tn">90</text>
<text transform="translate(918.94 430.90) scale(0.86 1)" class="tn">50</text>
<text transform="translate(941.90 407.80) scale(0.86 1)" class="tn">80</text>
<text transform="translate(941.90 430.90) scale(0.86 1)" class="tn">40</text>
<text transform="translate(964.85 407.80) scale(0.86 1)" class="tn">75</text>
<text transform="translate(964.85 430.90) scale(0.86 1)" class="tn">45</text>
<text transform="translate(987.81 407.80) scale(0.86 1)" class="tn">75</text>
<text transform="translate(987.81 430.90) scale(0.86 1)" class="tn">50</text>
<text transform="translate(1010.77 407.80) scale(0.86 1)" class="tn">70</text>
<text transform="translate(1010.77 430.90) scale(0.86 1)" class="tn">40</text>
<text transform="translate(1033.73 407.80) scale(0.86 1)" class="tn">70</text>
<text transform="translate(1033.73 430.90) scale(0.86 1)" class="tn">30</text>
<text transform="translate(1056.69 407.80) scale(0.86 1)" class="tn">70</text>
<text transform="translate(1056.69 430.90) scale(0.86 1)" class="tn">20</text>
<text transform="translate(1079.65 407.80) scale(0.86 1)" class="tn">60</text>
<text transform="translate(1079.65 430.90) scale(0.86 1)" class="tn">40</text>
<text transform="translate(1102.60 407.80) scale(0.86 1)" class="tn">60</text>
<text transform="translate(1102.60 430.90) scale(0.86 1)" class="tn">30</text>
<text transform="translate(1125.56 407.80) scale(0.86 1)" class="tn">60</text>
<text transform="translate(1125.56 430.90) scale(0.86 1)" class="tn">20</text>
<text transform="translate(1148.52 407.80) scale(0.86 1)" class="tn">50</text>
<text transform="translate(1148.52 430.90) scale(0.86 1)" class="tn">30</text>
<text x="465.35" y="451.50" class="tl">a</text>
<text x="491.05" y="451.50" class="tl">b</text>
<text x="516.05" y="451.50" class="tl">c</text>
<text x="539.20" y="451.50" class="tl">d</text>
<circle class="st" cx="562.15" cy="447.90" r="1.35"/>
<circle class="st" cx="591.30" cy="447.90" r="1.35"/>
<circle class="st" cx="620.48" cy="447.90" r="1.35"/>
<circle class="st" cx="643.44" cy="447.90" r="1.35"/>
<circle class="st" cx="666.40" cy="447.90" r="1.35"/>
<circle class="st" cx="689.35" cy="447.90" r="1.35"/>
<circle class="st" cx="712.31" cy="447.90" r="1.35"/>
<circle class="st" cx="735.27" cy="447.90" r="1.35"/>
<circle class="st" cx="758.23" cy="447.90" r="1.35"/>
<circle class="st" cx="781.19" cy="447.90" r="1.35"/>
<circle class="st" cx="804.15" cy="447.90" r="1.35"/>
<circle class="st" cx="827.10" cy="447.90" r="1.35"/>
<circle class="st" cx="850.06" cy="447.90" r="1.35"/>
<circle class="st" cx="873.02" cy="447.90" r="1.35"/>
<circle class="st" cx="895.98" cy="447.90" r="1.35"/>
<circle class="st" cx="918.94" cy="447.90" r="1.35"/>
<circle class="st" cx="941.90" cy="447.90" r="1.35"/>
<circle class="st" cx="964.85" cy="447.90" r="1.35"/>
<circle class="st" cx="987.81" cy="447.90" r="1.35"/>
<circle class="st" cx="1010.77" cy="447.90" r="1.35"/>
<circle class="st" cx="1033.73" cy="447.90" r="1.35"/>
<circle class="st" cx="1056.69" cy="447.90" r="1.35"/>
<circle class="st" cx="1079.65" cy="447.90" r="1.35"/>
<circle class="st" cx="1102.60" cy="447.90" r="1.35"/>
<circle class="st" cx="1125.56" cy="447.90" r="1.35"/>
<circle class="st" cx="1148.52" cy="447.90" r="1.35"/>
<text transform="translate(465.35 469.73) scale(0.86 1)" class="tn">2</text>
<circle class="st" cx="562.15" cy="466.13" r="1.35"/>
<text transform="translate(465.35 487.00) scale(0.86 1)" class="tn">3</text>
<circle class="st" cx="562.15" cy="483.40" r="1.35"/>
<polygon class="ck" points="617.78,484.20 618.58,483.60 620.58,485.60 623.38,479.90 623.88,480.20 620.98,487.40 620.18,487.40"/>
<polygon class="ck" points="640.74,484.20 641.54,483.60 643.54,485.60 646.34,479.90 646.84,480.20 643.94,487.40 643.14,487.40"/>
<polygon class="ck" points="663.70,484.20 664.50,483.60 666.50,485.60 669.30,479.90 669.80,480.20 666.90,487.40 666.10,487.40"/>
<polygon class="ck" points="686.65,484.20 687.45,483.60 689.45,485.60 692.25,479.90 692.75,480.20 689.85,487.40 689.05,487.40"/>
<polygon class="ck" points="709.61,484.20 710.41,483.60 712.41,485.60 715.21,479.90 715.71,480.20 712.81,487.40 712.01,487.40"/>
<polygon class="ck" points="732.57,484.20 733.37,483.60 735.37,485.60 738.17,479.90 738.67,480.20 735.77,487.40 734.97,487.40"/>
<polygon class="ck" points="755.53,484.20 756.33,483.60 758.33,485.60 761.13,479.90 761.63,480.20 758.73,487.40 757.93,487.40"/>
<polygon class="ck" points="778.49,484.20 779.29,483.60 781.29,485.60 784.09,479.90 784.59,480.20 781.69,487.40 780.89,487.40"/>
<polygon class="ck" points="801.45,484.20 802.25,483.60 804.25,485.60 807.05,479.90 807.55,480.20 804.65,487.40 803.85,487.40"/>
<polygon class="ck" points="824.40,484.20 825.20,483.60 827.20,485.60 830.00,479.90 830.50,480.20 827.60,487.40 826.80,487.40"/>
<polygon class="ck" points="847.36,484.20 848.16,483.60 850.16,485.60 852.96,479.90 853.46,480.20 850.56,487.40 849.76,487.40"/>
<polygon class="ck" points="870.32,484.20 871.12,483.60 873.12,485.60 875.92,479.90 876.42,480.20 873.52,487.40 872.72,487.40"/>
<polygon class="ck" points="893.28,484.20 894.08,483.60 896.08,485.60 898.88,479.90 899.38,480.20 896.48,487.40 895.68,487.40"/>
<polygon class="ck" points="916.24,484.20 917.04,483.60 919.04,485.60 921.84,479.90 922.34,480.20 919.44,487.40 918.64,487.40"/>
<polygon class="ck" points="939.20,484.20 940.00,483.60 942.00,485.60 944.80,479.90 945.30,480.20 942.40,487.40 941.60,487.40"/>
<polygon class="ck" points="962.15,484.20 962.95,483.60 964.95,485.60 967.75,479.90 968.25,480.20 965.35,487.40 964.55,487.40"/>
<polygon class="ck" points="985.11,484.20 985.91,483.60 987.91,485.60 990.71,479.90 991.21,480.20 988.31,487.40 987.51,487.40"/>
<polygon class="ck" points="1008.07,484.20 1008.87,483.60 1010.87,485.60 1013.67,479.90 1014.17,480.20 1011.27,487.40 1010.47,487.40"/>
<polygon class="ck" points="1031.03,484.20 1031.83,483.60 1033.83,485.60 1036.63,479.90 1037.13,480.20 1034.23,487.40 1033.43,487.40"/>
<polygon class="ck" points="1076.95,484.20 1077.75,483.60 1079.75,485.60 1082.55,479.90 1083.05,480.20 1080.15,487.40 1079.35,487.40"/>
<polygon class="ck" points="1099.90,484.20 1100.70,483.60 1102.70,485.60 1105.50,479.90 1106.00,480.20 1103.10,487.40 1102.30,487.40"/>
<polygon class="ck" points="1145.82,484.20 1146.62,483.60 1148.62,485.60 1151.42,479.90 1151.92,480.20 1149.02,487.40 1148.22,487.40"/>
<text transform="translate(465.35 504.27) scale(0.86 1)" class="tn">4</text>
<circle class="st" cx="562.15" cy="500.67" r="1.35"/>
<polygon class="ck" points="588.60,501.47 589.40,500.87 591.40,502.87 594.20,497.17 594.70,497.47 591.80,504.67 591.00,504.67"/>
<polygon class="ck" points="617.78,501.47 618.58,500.87 620.58,502.87 623.38,497.17 623.88,497.47 620.98,504.67 620.18,504.67"/>
<polygon class="ck" points="640.74,501.47 641.54,500.87 643.54,502.87 646.34,497.17 646.84,497.47 643.94,504.67 643.14,504.67"/>
<polygon class="ck" points="663.70,501.47 664.50,500.87 666.50,502.87 669.30,497.17 669.80,497.47 666.90,504.67 666.10,504.67"/>
<polygon class="ck" points="686.65,501.47 687.45,500.87 689.45,502.87 692.25,497.17 692.75,497.47 689.85,504.67 689.05,504.67"/>
<polygon class="ck" points="709.61,501.47 710.41,500.87 712.41,502.87 715.21,497.17 715.71,497.47 712.81,504.67 712.01,504.67"/>
<polygon class="ck" points="732.57,501.47 733.37,500.87 735.37,502.87 738.17,497.17 738.67,497.47 735.77,504.67 734.97,504.67"/>
<polygon class="ck" points="755.53,501.47 756.33,500.87 758.33,502.87 761.13,497.17 761.63,497.47 758.73,504.67 757.93,504.67"/>
<polygon class="ck" points="778.49,501.47 779.29,500.87 781.29,502.87 784.09,497.17 784.59,497.47 781.69,504.67 780.89,504.67"/>
<polygon class="ck" points="801.45,501.47 802.25,500.87 804.25,502.87 807.05,497.17 807.55,497.47 804.65,504.67 803.85,504.67"/>
<polygon class="ck" points="824.40,501.47 825.20,500.87 827.20,502.87 830.00,497.17 830.50,497.47 827.60,504.67 826.80,504.67"/>
<polygon class="ck" points="847.36,501.47 848.16,500.87 850.16,502.87 852.96,497.17 853.46,497.47 850.56,504.67 849.76,504.67"/>
<polygon class="ck" points="870.32,501.47 871.12,500.87 873.12,502.87 875.92,497.17 876.42,497.47 873.52,504.67 872.72,504.67"/>
<polygon class="ck" points="893.28,501.47 894.08,500.87 896.08,502.87 898.88,497.17 899.38,497.47 896.48,504.67 895.68,504.67"/>
<polygon class="ck" points="916.24,501.47 917.04,500.87 919.04,502.87 921.84,497.17 922.34,497.47 919.44,504.67 918.64,504.67"/>
<polygon class="ck" points="939.20,501.47 940.00,500.87 942.00,502.87 944.80,497.17 945.30,497.47 942.40,504.67 941.60,504.67"/>
<polygon class="ck" points="962.15,501.47 962.95,500.87 964.95,502.87 967.75,497.17 968.25,497.47 965.35,504.67 964.55,504.67"/>
<polygon class="ck" points="985.11,501.47 985.91,500.87 987.91,502.87 990.71,497.17 991.21,497.47 988.31,504.67 987.51,504.67"/>
<polygon class="ck" points="1008.07,501.47 1008.87,500.87 1010.87,502.87 1013.67,497.17 1014.17,497.47 1011.27,504.67 1010.47,504.67"/>
<polygon class="ck" points="1031.03,501.47 1031.83,500.87 1033.83,502.87 1036.63,497.17 1037.13,497.47 1034.23,504.67 1033.43,504.67"/>
<polygon class="ck" points="1076.95,501.47 1077.75,500.87 1079.75,502.87 1082.55,497.17 1083.05,497.47 1080.15,504.67 1079.35,504.67"/>
<polygon class="ck" points="1099.90,501.47 1100.70,500.87 1102.70,502.87 1105.50,497.17 1106.00,497.47 1103.10,504.67 1102.30,504.67"/>
<polygon class="ck" points="1145.82,501.47 1146.62,500.87 1148.62,502.87 1151.42,497.17 1151.92,497.47 1149.02,504.67 1148.22,504.67"/>
<text transform="translate(465.35 521.53) scale(0.86 1)" class="tn">5</text>
<circle class="st" cx="562.15" cy="517.93" r="1.35"/>
<polygon class="ck" points="588.60,518.73 589.40,518.13 591.40,520.13 594.20,514.43 594.70,514.73 591.80,521.93 591.00,521.93"/>
<polygon class="ck" points="617.78,518.73 618.58,518.13 620.58,520.13 623.38,514.43 623.88,514.73 620.98,521.93 620.18,521.93"/>
<polygon class="ck" points="640.74,518.73 641.54,518.13 643.54,520.13 646.34,514.43 646.84,514.73 643.94,521.93 643.14,521.93"/>
<polygon class="ck" points="663.70,518.73 664.50,518.13 666.50,520.13 669.30,514.43 669.80,514.73 666.90,521.93 666.10,521.93"/>
<polygon class="ck" points="686.65,518.73 687.45,518.13 689.45,520.13 692.25,514.43 692.75,514.73 689.85,521.93 689.05,521.93"/>
<polygon class="ck" points="709.61,518.73 710.41,518.13 712.41,520.13 715.21,514.43 715.71,514.73 712.81,521.93 712.01,521.93"/>
<polygon class="ck" points="732.57,518.73 733.37,518.13 735.37,520.13 738.17,514.43 738.67,514.73 735.77,521.93 734.97,521.93"/>
<polygon class="ck" points="755.53,518.73 756.33,518.13 758.33,520.13 761.13,514.43 761.63,514.73 758.73,521.93 757.93,521.93"/>
<polygon class="ck" points="778.49,518.73 779.29,518.13 781.29,520.13 784.09,514.43 784.59,514.73 781.69,521.93 780.89,521.93"/>
<polygon class="ck" points="801.45,518.73 802.25,518.13 804.25,520.13 807.05,514.43 807.55,514.73 804.65,521.93 803.85,521.93"/>
<polygon class="ck" points="824.40,518.73 825.20,518.13 827.20,520.13 830.00,514.43 830.50,514.73 827.60,521.93 826.80,521.93"/>
<polygon class="ck" points="847.36,518.73 848.16,518.13 850.16,520.13 852.96,514.43 853.46,514.73 850.56,521.93 849.76,521.93"/>
<polygon class="ck" points="870.32,518.73 871.12,518.13 873.12,520.13 875.92,514.43 876.42,514.73 873.52,521.93 872.72,521.93"/>
<polygon class="ck" points="893.28,518.73 894.08,518.13 896.08,520.13 898.88,514.43 899.38,514.73 896.48,521.93 895.68,521.93"/>
<polygon class="ck" points="916.24,518.73 917.04,518.13 919.04,520.13 921.84,514.43 922.34,514.73 919.44,521.93 918.64,521.93"/>
<polygon class="ck" points="939.20,518.73 940.00,518.13 942.00,520.13 944.80,514.43 945.30,514.73 942.40,521.93 941.60,521.93"/>
<polygon class="ck" points="962.15,518.73 962.95,518.13 964.95,520.13 967.75,514.43 968.25,514.73 965.35,521.93 964.55,521.93"/>
<polygon class="ck" points="985.11,518.73 985.91,518.13 987.91,520.13 990.71,514.43 991.21,514.73 988.31,521.93 987.51,521.93"/>
<polygon class="ck" points="1008.07,518.73 1008.87,518.13 1010.87,520.13 1013.67,514.43 1014.17,514.73 1011.27,521.93 1010.47,521.93"/>
<polygon class="ck" points="1031.03,518.73 1031.83,518.13 1033.83,520.13 1036.63,514.43 1037.13,514.73 1034.23,521.93 1033.43,521.93"/>
<polygon class="ck" points="1076.95,518.73 1077.75,518.13 1079.75,520.13 1082.55,514.43 1083.05,514.73 1080.15,521.93 1079.35,521.93"/>
<polygon class="ck" points="1099.90,518.73 1100.70,518.13 1102.70,520.13 1105.50,514.43 1106.00,514.73 1103.10,521.93 1102.30,521.93"/>
<polygon class="ck" points="1145.82,518.73 1146.62,518.13 1148.62,520.13 1151.42,514.43 1151.92,514.73 1149.02,521.93 1148.22,521.93"/>
<text transform="translate(465.35 538.80) scale(0.86 1)" class="tn">6</text>
<circle class="st" cx="562.15" cy="535.20" r="1.35"/>
<polygon class="ck" points="588.60,536.00 589.40,535.40 591.40,537.40 594.20,531.70 594.70,532.00 591.80,539.20 591.00,539.20"/>
<polygon class="ck" points="617.78,536.00 618.58,535.40 620.58,537.40 623.38,531.70 623.88,532.00 620.98,539.20 620.18,539.20"/>
<polygon class="ck" points="640.74,536.00 641.54,535.40 643.54,537.40 646.34,531.70 646.84,532.00 643.94,539.20 643.14,539.20"/>
<polygon class="ck" points="663.70,536.00 664.50,535.40 666.50,537.40 669.30,531.70 669.80,532.00 666.90,539.20 666.10,539.20"/>
<polygon class="ck" points="686.65,536.00 687.45,535.40 689.45,537.40 692.25,531.70 692.75,532.00 689.85,539.20 689.05,539.20"/>
<polygon class="ck" points="709.61,536.00 710.41,535.40 712.41,537.40 715.21,531.70 715.71,532.00 712.81,539.20 712.01,539.20"/>
<polygon class="ck" points="732.57,536.00 733.37,535.40 735.37,537.40 738.17,531.70 738.67,532.00 735.77,539.20 734.97,539.20"/>
<polygon class="ck" points="755.53,536.00 756.33,535.40 758.33,537.40 761.13,531.70 761.63,532.00 758.73,539.20 757.93,539.20"/>
<polygon class="ck" points="778.49,536.00 779.29,535.40 781.29,537.40 784.09,531.70 784.59,532.00 781.69,539.20 780.89,539.20"/>
<polygon class="ck" points="801.45,536.00 802.25,535.40 804.25,537.40 807.05,531.70 807.55,532.00 804.65,539.20 803.85,539.20"/>
<polygon class="ck" points="824.40,536.00 825.20,535.40 827.20,537.40 830.00,531.70 830.50,532.00 827.60,539.20 826.80,539.20"/>
<polygon class="ck" points="847.36,536.00 848.16,535.40 850.16,537.40 852.96,531.70 853.46,532.00 850.56,539.20 849.76,539.20"/>
<polygon class="ck" points="870.32,536.00 871.12,535.40 873.12,537.40 875.92,531.70 876.42,532.00 873.52,539.20 872.72,539.20"/>
<polygon class="ck" points="893.28,536.00 894.08,535.40 896.08,537.40 898.88,531.70 899.38,532.00 896.48,539.20 895.68,539.20"/>
<polygon class="ck" points="916.24,536.00 917.04,535.40 919.04,537.40 921.84,531.70 922.34,532.00 919.44,539.20 918.64,539.20"/>
<polygon class="ck" points="939.20,536.00 940.00,535.40 942.00,537.40 944.80,531.70 945.30,532.00 942.40,539.20 941.60,539.20"/>
<polygon class="ck" points="962.15,536.00 962.95,535.40 964.95,537.40 967.75,531.70 968.25,532.00 965.35,539.20 964.55,539.20"/>
<polygon class="ck" points="985.11,536.00 985.91,535.40 987.91,537.40 990.71,531.70 991.21,532.00 988.31,539.20 987.51,539.20"/>
<polygon class="ck" points="1008.07,536.00 1008.87,535.40 1010.87,537.40 1013.67,531.70 1014.17,532.00 1011.27,539.20 1010.47,539.20"/>
<polygon class="ck" points="1031.03,536.00 1031.83,535.40 1033.83,537.40 1036.63,531.70 1037.13,532.00 1034.23,539.20 1033.43,539.20"/>
<polygon class="ck" points="1076.95,536.00 1077.75,535.40 1079.75,537.40 1082.55,531.70 1083.05,532.00 1080.15,539.20 1079.35,539.20"/>
<polygon class="ck" points="1099.90,536.00 1100.70,535.40 1102.70,537.40 1105.50,531.70 1106.00,532.00 1103.10,539.20 1102.30,539.20"/>
<polygon class="ck" points="1145.82,536.00 1146.62,535.40 1148.62,537.40 1151.42,531.70 1151.92,532.00 1149.02,539.20 1148.22,539.20"/>
<text transform="translate(465.35 556.07) scale(0.86 1)" class="tn">8</text>
<circle class="st" cx="562.15" cy="552.47" r="1.35"/>
<polygon class="ck" points="588.60,553.27 589.40,552.67 591.40,554.67 594.20,548.97 594.70,549.27 591.80,556.47 591.00,556.47"/>
<polygon class="ck" points="617.78,553.27 618.58,552.67 620.58,554.67 623.38,548.97 623.88,549.27 620.98,556.47 620.18,556.47"/>
<polygon class="ck" points="640.74,553.27 641.54,552.67 643.54,554.67 646.34,548.97 646.84,549.27 643.94,556.47 643.14,556.47"/>
<polygon class="ck" points="663.70,553.27 664.50,552.67 666.50,554.67 669.30,548.97 669.80,549.27 666.90,556.47 666.10,556.47"/>
<polygon class="ck" points="686.65,553.27 687.45,552.67 689.45,554.67 692.25,548.97 692.75,549.27 689.85,556.47 689.05,556.47"/>
<polygon class="ck" points="709.61,553.27 710.41,552.67 712.41,554.67 715.21,548.97 715.71,549.27 712.81,556.47 712.01,556.47"/>
<polygon class="ck" points="732.57,553.27 733.37,552.67 735.37,554.67 738.17,548.97 738.67,549.27 735.77,556.47 734.97,556.47"/>
<polygon class="ck" points="755.53,553.27 756.33,552.67 758.33,554.67 761.13,548.97 761.63,549.27 758.73,556.47 757.93,556.47"/>
<polygon class="ck" points="778.49,553.27 779.29,552.67 781.29,554.67 784.09,548.97 784.59,549.27 781.69,556.47 780.89,556.47"/>
<polygon class="ck" points="801.45,553.27 802.25,552.67 804.25,554.67 807.05,548.97 807.55,549.27 804.65,556.47 803.85,556.47"/>
<polygon class="ck" points="824.40,553.27 825.20,552.67 827.20,554.67 830.00,548.97 830.50,549.27 827.60,556.47 826.80,556.47"/>
<polygon class="ck" points="847.36,553.27 848.16,552.67 850.16,554.67 852.96,548.97 853.46,549.27 850.56,556.47 849.76,556.47"/>
<polygon class="ck" points="870.32,553.27 871.12,552.67 873.12,554.67 875.92,548.97 876.42,549.27 873.52,556.47 872.72,556.47"/>
<polygon class="ck" points="893.28,553.27 894.08,552.67 896.08,554.67 898.88,548.97 899.38,549.27 896.48,556.47 895.68,556.47"/>
<polygon class="ck" points="916.24,553.27 917.04,552.67 919.04,554.67 921.84,548.97 922.34,549.27 919.44,556.47 918.64,556.47"/>
<polygon class="ck" points="939.20,553.27 940.00,552.67 942.00,554.67 944.80,548.97 945.30,549.27 942.40,556.47 941.60,556.47"/>
<polygon class="ck" points="962.15,553.27 962.95,552.67 964.95,554.67 967.75,548.97 968.25,549.27 965.35,556.47 964.55,556.47"/>
<polygon class="ck" points="985.11,553.27 985.91,552.67 987.91,554.67 990.71,548.97 991.21,549.27 988.31,556.47 987.51,556.47"/>
<polygon class="ck" points="1008.07,553.27 1008.87,552.67 1010.87,554.67 1013.67,548.97 1014.17,549.27 1011.27,556.47 1010.47,556.47"/>
<polygon class="ck" points="1031.03,553.27 1031.83,552.67 1033.83,554.67 1036.63,548.97 1037.13,549.27 1034.23,556.47 1033.43,556.47"/>
<polygon class="ck" points="1076.95,553.27 1077.75,552.67 1079.75,554.67 1082.55,548.97 1083.05,549.27 1080.15,556.47 1079.35,556.47"/>
<polygon class="ck" points="1099.90,553.27 1100.70,552.67 1102.70,554.67 1105.50,548.97 1106.00,549.27 1103.10,556.47 1102.30,556.47"/>
<polygon class="ck" points="1145.82,553.27 1146.62,552.67 1148.62,554.67 1151.42,548.97 1151.92,549.27 1149.02,556.47 1148.22,556.47"/>
<text transform="translate(465.35 573.33) scale(0.86 1)" class="tn">9</text>
<circle class="st" cx="562.15" cy="569.73" r="1.35"/>
<polygon class="ck" points="588.60,570.53 589.40,569.93 591.40,571.93 594.20,566.23 594.70,566.53 591.80,573.73 591.00,573.73"/>
<polygon class="ck" points="617.78,570.53 618.58,569.93 620.58,571.93 623.38,566.23 623.88,566.53 620.98,573.73 620.18,573.73"/>
<polygon class="ck" points="640.74,570.53 641.54,569.93 643.54,571.93 646.34,566.23 646.84,566.53 643.94,573.73 643.14,573.73"/>
<polygon class="ck" points="663.70,570.53 664.50,569.93 666.50,571.93 669.30,566.23 669.80,566.53 666.90,573.73 666.10,573.73"/>
<polygon class="ck" points="686.65,570.53 687.45,569.93 689.45,571.93 692.25,566.23 692.75,566.53 689.85,573.73 689.05,573.73"/>
<polygon class="ck" points="709.61,570.53 710.41,569.93 712.41,571.93 715.21,566.23 715.71,566.53 712.81,573.73 712.01,573.73"/>
<polygon class="ck" points="732.57,570.53 733.37,569.93 735.37,571.93 738.17,566.23 738.67,566.53 735.77,573.73 734.97,573.73"/>
<polygon class="ck" points="755.53,570.53 756.33,569.93 758.33,571.93 761.13,566.23 761.63,566.53 758.73,573.73 757.93,573.73"/>
<polygon class="ck" points="778.49,570.53 779.29,569.93 781.29,571.93 784.09,566.23 784.59,566.53 781.69,573.73 780.89,573.73"/>
<polygon class="ck" points="801.45,570.53 802.25,569.93 804.25,571.93 807.05,566.23 807.55,566.53 804.65,573.73 803.85,573.73"/>
<polygon class="ck" points="824.40,570.53 825.20,569.93 827.20,571.93 830.00,566.23 830.50,566.53 827.60,573.73 826.80,573.73"/>
<polygon class="ck" points="847.36,570.53 848.16,569.93 850.16,571.93 852.96,566.23 853.46,566.53 850.56,573.73 849.76,573.73"/>
<polygon class="ck" points="870.32,570.53 871.12,569.93 873.12,571.93 875.92,566.23 876.42,566.53 873.52,573.73 872.72,573.73"/>
<polygon class="ck" points="893.28,570.53 894.08,569.93 896.08,571.93 898.88,566.23 899.38,566.53 896.48,573.73 895.68,573.73"/>
<polygon class="ck" points="916.24,570.53 917.04,569.93 919.04,571.93 921.84,566.23 922.34,566.53 919.44,573.73 918.64,573.73"/>
<polygon class="ck" points="939.20,570.53 940.00,569.93 942.00,571.93 944.80,566.23 945.30,566.53 942.40,573.73 941.60,573.73"/>
<polygon class="ck" points="962.15,570.53 962.95,569.93 964.95,571.93 967.75,566.23 968.25,566.53 965.35,573.73 964.55,573.73"/>
<polygon class="ck" points="985.11,570.53 985.91,569.93 987.91,571.93 990.71,566.23 991.21,566.53 988.31,573.73 987.51,573.73"/>
<polygon class="ck" points="1008.07,570.53 1008.87,569.93 1010.87,571.93 1013.67,566.23 1014.17,566.53 1011.27,573.73 1010.47,573.73"/>
<polygon class="ck" points="1031.03,570.53 1031.83,569.93 1033.83,571.93 1036.63,566.23 1037.13,566.53 1034.23,573.73 1033.43,573.73"/>
<polygon class="ck" points="1076.95,570.53 1077.75,569.93 1079.75,571.93 1082.55,566.23 1083.05,566.53 1080.15,573.73 1079.35,573.73"/>
<polygon class="ck" points="1099.90,570.53 1100.70,569.93 1102.70,571.93 1105.50,566.23 1106.00,566.53 1103.10,573.73 1102.30,573.73"/>
<polygon class="ck" points="1145.82,570.53 1146.62,569.93 1148.62,571.93 1151.42,566.23 1151.92,566.53 1149.02,573.73 1148.22,573.73"/>
<text transform="translate(465.35 590.60) scale(0.86 1)" class="tn">10</text>
<circle class="st" cx="562.15" cy="587.00" r="1.35"/>
<polygon class="ck" points="588.60,587.80 589.40,587.20 591.40,589.20 594.20,583.50 594.70,583.80 591.80,591.00 591.00,591.00"/>
<polygon class="ck" points="617.78,587.80 618.58,587.20 620.58,589.20 623.38,583.50 623.88,583.80 620.98,591.00 620.18,591.00"/>
<polygon class="ck" points="640.74,587.80 641.54,587.20 643.54,589.20 646.34,583.50 646.84,583.80 643.94,591.00 643.14,591.00"/>
<polygon class="ck" points="663.70,587.80 664.50,587.20 666.50,589.20 669.30,583.50 669.80,583.80 666.90,591.00 666.10,591.00"/>
<polygon class="ck" points="686.65,587.80 687.45,587.20 689.45,589.20 692.25,583.50 692.75,583.80 689.85,591.00 689.05,591.00"/>
<polygon class="ck" points="709.61,587.80 710.41,587.20 712.41,589.20 715.21,583.50 715.71,583.80 712.81,591.00 712.01,591.00"/>
<polygon class="ck" points="732.57,587.80 733.37,587.20 735.37,589.20 738.17,583.50 738.67,583.80 735.77,591.00 734.97,591.00"/>
<polygon class="ck" points="755.53,587.80 756.33,587.20 758.33,589.20 761.13,583.50 761.63,583.80 758.73,591.00 757.93,591.00"/>
<polygon class="ck" points="778.49,587.80 779.29,587.20 781.29,589.20 784.09,583.50 784.59,583.80 781.69,591.00 780.89,591.00"/>
<polygon class="ck" points="801.45,587.80 802.25,587.20 804.25,589.20 807.05,583.50 807.55,583.80 804.65,591.00 803.85,591.00"/>
<polygon class="ck" points="824.40,587.80 825.20,587.20 827.20,589.20 830.00,583.50 830.50,583.80 827.60,591.00 826.80,591.00"/>
<polygon class="ck" points="847.36,587.80 848.16,587.20 850.16,589.20 852.96,583.50 853.46,583.80 850.56,591.00 849.76,591.00"/>
<polygon class="ck" points="870.32,587.80 871.12,587.20 873.12,589.20 875.92,583.50 876.42,583.80 873.52,591.00 872.72,591.00"/>
<polygon class="ck" points="893.28,587.80 894.08,587.20 896.08,589.20 898.88,583.50 899.38,583.80 896.48,591.00 895.68,591.00"/>
<polygon class="ck" points="916.24,587.80 917.04,587.20 919.04,589.20 921.84,583.50 922.34,583.80 919.44,591.00 918.64,591.00"/>
<polygon class="ck" points="939.20,587.80 940.00,587.20 942.00,589.20 944.80,583.50 945.30,583.80 942.40,591.00 941.60,591.00"/>
<polygon class="ck" points="962.15,587.80 962.95,587.20 964.95,589.20 967.75,583.50 968.25,583.80 965.35,591.00 964.55,591.00"/>
<polygon class="ck" points="985.11,587.80 985.91,587.20 987.91,589.20 990.71,583.50 991.21,583.80 988.31,591.00 987.51,591.00"/>
<polygon class="ck" points="1008.07,587.80 1008.87,587.20 1010.87,589.20 1013.67,583.50 1014.17,583.80 1011.27,591.00 1010.47,591.00"/>
<polygon class="ck" points="1031.03,587.80 1031.83,587.20 1033.83,589.20 1036.63,583.50 1037.13,583.80 1034.23,591.00 1033.43,591.00"/>
<polygon class="ck" points="1076.95,587.80 1077.75,587.20 1079.75,589.20 1082.55,583.50 1083.05,583.80 1080.15,591.00 1079.35,591.00"/>
<polygon class="ck" points="1099.90,587.80 1100.70,587.20 1102.70,589.20 1105.50,583.50 1106.00,583.80 1103.10,591.00 1102.30,591.00"/>
<polygon class="ck" points="1145.82,587.80 1146.62,587.20 1148.62,589.20 1151.42,583.50 1151.92,583.80 1149.02,591.00 1148.22,591.00"/>
<text transform="translate(465.35 607.87) scale(0.86 1)" class="tn">12</text>
<circle class="st" cx="562.15" cy="604.27" r="1.35"/>
<polygon class="ck" points="588.60,605.07 589.40,604.47 591.40,606.47 594.20,600.77 594.70,601.07 591.80,608.27 591.00,608.27"/>
<polygon class="ck" points="617.78,605.07 618.58,604.47 620.58,606.47 623.38,600.77 623.88,601.07 620.98,608.27 620.18,608.27"/>
<polygon class="ck" points="640.74,605.07 641.54,604.47 643.54,606.47 646.34,600.77 646.84,601.07 643.94,608.27 643.14,608.27"/>
<polygon class="ck" points="663.70,605.07 664.50,604.47 666.50,606.47 669.30,600.77 669.80,601.07 666.90,608.27 666.10,608.27"/>
<polygon class="ck" points="686.65,605.07 687.45,604.47 689.45,606.47 692.25,600.77 692.75,601.07 689.85,608.27 689.05,608.27"/>
<polygon class="ck" points="709.61,605.07 710.41,604.47 712.41,606.47 715.21,600.77 715.71,601.07 712.81,608.27 712.01,608.27"/>
<polygon class="ck" points="732.57,605.07 733.37,604.47 735.37,606.47 738.17,600.77 738.67,601.07 735.77,608.27 734.97,608.27"/>
<polygon class="ck" points="755.53,605.07 756.33,604.47 758.33,606.47 761.13,600.77 761.63,601.07 758.73,608.27 757.93,608.27"/>
<polygon class="ck" points="778.49,605.07 779.29,604.47 781.29,606.47 784.09,600.77 784.59,601.07 781.69,608.27 780.89,608.27"/>
<polygon class="ck" points="801.45,605.07 802.25,604.47 804.25,606.47 807.05,600.77 807.55,601.07 804.65,608.27 803.85,608.27"/>
<polygon class="ck" points="824.40,605.07 825.20,604.47 827.20,606.47 830.00,600.77 830.50,601.07 827.60,608.27 826.80,608.27"/>
<polygon class="ck" points="847.36,605.07 848.16,604.47 850.16,606.47 852.96,600.77 853.46,601.07 850.56,608.27 849.76,608.27"/>
<polygon class="ck" points="870.32,605.07 871.12,604.47 873.12,606.47 875.92,600.77 876.42,601.07 873.52,608.27 872.72,608.27"/>
<polygon class="ck" points="893.28,605.07 894.08,604.47 896.08,606.47 898.88,600.77 899.38,601.07 896.48,608.27 895.68,608.27"/>
<polygon class="ck" points="916.24,605.07 917.04,604.47 919.04,606.47 921.84,600.77 922.34,601.07 919.44,608.27 918.64,608.27"/>
<polygon class="ck" points="939.20,605.07 940.00,604.47 942.00,606.47 944.80,600.77 945.30,601.07 942.40,608.27 941.60,608.27"/>
<polygon class="ck" points="962.15,605.07 962.95,604.47 964.95,606.47 967.75,600.77 968.25,601.07 965.35,608.27 964.55,608.27"/>
<polygon class="ck" points="985.11,605.07 985.91,604.47 987.91,606.47 990.71,600.77 991.21,601.07 988.31,608.27 987.51,608.27"/>
<polygon class="ck" points="1008.07,605.07 1008.87,604.47 1010.87,606.47 1013.67,600.77 1014.17,601.07 1011.27,608.27 1010.47,608.27"/>
<polygon class="ck" points="1031.03,605.07 1031.83,604.47 1033.83,606.47 1036.63,600.77 1037.13,601.07 1034.23,608.27 1033.43,608.27"/>
<polygon class="ck" points="1076.95,605.07 1077.75,604.47 1079.75,606.47 1082.55,600.77 1083.05,601.07 1080.15,608.27 1079.35,608.27"/>
<polygon class="ck" points="1099.90,605.07 1100.70,604.47 1102.70,606.47 1105.50,600.77 1106.00,601.07 1103.10,608.27 1102.30,608.27"/>
<polygon class="ck" points="1145.82,605.07 1146.62,604.47 1148.62,606.47 1151.42,600.77 1151.92,601.07 1149.02,608.27 1148.22,608.27"/>
<text transform="translate(465.35 625.13) scale(0.86 1)" class="tn">14</text>
<circle class="st" cx="562.15" cy="621.53" r="1.35"/>
<polygon class="ck" points="588.60,622.33 589.40,621.73 591.40,623.73 594.20,618.03 594.70,618.33 591.80,625.53 591.00,625.53"/>
<polygon class="ck" points="617.78,622.33 618.58,621.73 620.58,623.73 623.38,618.03 623.88,618.33 620.98,625.53 620.18,625.53"/>
<polygon class="ck" points="640.74,622.33 641.54,621.73 643.54,623.73 646.34,618.03 646.84,618.33 643.94,625.53 643.14,625.53"/>
<polygon class="ck" points="663.70,622.33 664.50,621.73 666.50,623.73 669.30,618.03 669.80,618.33 666.90,625.53 666.10,625.53"/>
<polygon class="ck" points="686.65,622.33 687.45,621.73 689.45,623.73 692.25,618.03 692.75,618.33 689.85,625.53 689.05,625.53"/>
<polygon class="ck" points="709.61,622.33 710.41,621.73 712.41,623.73 715.21,618.03 715.71,618.33 712.81,625.53 712.01,625.53"/>
<polygon class="ck" points="732.57,622.33 733.37,621.73 735.37,623.73 738.17,618.03 738.67,618.33 735.77,625.53 734.97,625.53"/>
<polygon class="ck" points="755.53,622.33 756.33,621.73 758.33,623.73 761.13,618.03 761.63,618.33 758.73,625.53 757.93,625.53"/>
<polygon class="ck" points="778.49,622.33 779.29,621.73 781.29,623.73 784.09,618.03 784.59,618.33 781.69,625.53 780.89,625.53"/>
<polygon class="ck" points="801.45,622.33 802.25,621.73 804.25,623.73 807.05,618.03 807.55,618.33 804.65,625.53 803.85,625.53"/>
<polygon class="ck" points="824.40,622.33 825.20,621.73 827.20,623.73 830.00,618.03 830.50,618.33 827.60,625.53 826.80,625.53"/>
<polygon class="ck" points="847.36,622.33 848.16,621.73 850.16,623.73 852.96,618.03 853.46,618.33 850.56,625.53 849.76,625.53"/>
<polygon class="ck" points="870.32,622.33 871.12,621.73 873.12,623.73 875.92,618.03 876.42,618.33 873.52,625.53 872.72,625.53"/>
<polygon class="ck" points="893.28,622.33 894.08,621.73 896.08,623.73 898.88,618.03 899.38,618.33 896.48,625.53 895.68,625.53"/>
<polygon class="ck" points="916.24,622.33 917.04,621.73 919.04,623.73 921.84,618.03 922.34,618.33 919.44,625.53 918.64,625.53"/>
<polygon class="ck" points="939.20,622.33 940.00,621.73 942.00,623.73 944.80,618.03 945.30,618.33 942.40,625.53 941.60,625.53"/>
<polygon class="ck" points="962.15,622.33 962.95,621.73 964.95,623.73 967.75,618.03 968.25,618.33 965.35,625.53 964.55,625.53"/>
<polygon class="ck" points="985.11,622.33 985.91,621.73 987.91,623.73 990.71,618.03 991.21,618.33 988.31,625.53 987.51,625.53"/>
<polygon class="ck" points="1008.07,622.33 1008.87,621.73 1010.87,623.73 1013.67,618.03 1014.17,618.33 1011.27,625.53 1010.47,625.53"/>
<polygon class="ck" points="1031.03,622.33 1031.83,621.73 1033.83,623.73 1036.63,618.03 1037.13,618.33 1034.23,625.53 1033.43,625.53"/>
<polygon class="ck" points="1076.95,622.33 1077.75,621.73 1079.75,623.73 1082.55,618.03 1083.05,618.33 1080.15,625.53 1079.35,625.53"/>
<text transform="translate(465.35 642.40) scale(0.86 1)" class="tn">16</text>
<circle class="st" cx="562.15" cy="638.80" r="1.35"/>
<polygon class="ck" points="588.60,639.60 589.40,639.00 591.40,641.00 594.20,635.30 594.70,635.60 591.80,642.80 591.00,642.80"/>
<polygon class="ck" points="617.78,639.60 618.58,639.00 620.58,641.00 623.38,635.30 623.88,635.60 620.98,642.80 620.18,642.80"/>
<polygon class="ck" points="640.74,639.60 641.54,639.00 643.54,641.00 646.34,635.30 646.84,635.60 643.94,642.80 643.14,642.80"/>
<polygon class="ck" points="663.70,639.60 664.50,639.00 666.50,641.00 669.30,635.30 669.80,635.60 666.90,642.80 666.10,642.80"/>
<polygon class="ck" points="686.65,639.60 687.45,639.00 689.45,641.00 692.25,635.30 692.75,635.60 689.85,642.80 689.05,642.80"/>
<polygon class="ck" points="709.61,639.60 710.41,639.00 712.41,641.00 715.21,635.30 715.71,635.60 712.81,642.80 712.01,642.80"/>
<polygon class="ck" points="732.57,639.60 733.37,639.00 735.37,641.00 738.17,635.30 738.67,635.60 735.77,642.80 734.97,642.80"/>
<polygon class="ck" points="755.53,639.60 756.33,639.00 758.33,641.00 761.13,635.30 761.63,635.60 758.73,642.80 757.93,642.80"/>
<polygon class="ck" points="778.49,639.60 779.29,639.00 781.29,641.00 784.09,635.30 784.59,635.60 781.69,642.80 780.89,642.80"/>
<polygon class="ck" points="801.45,639.60 802.25,639.00 804.25,641.00 807.05,635.30 807.55,635.60 804.65,642.80 803.85,642.80"/>
<polygon class="ck" points="824.40,639.60 825.20,639.00 827.20,641.00 830.00,635.30 830.50,635.60 827.60,642.80 826.80,642.80"/>
<polygon class="ck" points="847.36,639.60 848.16,639.00 850.16,641.00 852.96,635.30 853.46,635.60 850.56,642.80 849.76,642.80"/>
<polygon class="ck" points="870.32,639.60 871.12,639.00 873.12,641.00 875.92,635.30 876.42,635.60 873.52,642.80 872.72,642.80"/>
<polygon class="ck" points="916.24,639.60 917.04,639.00 919.04,641.00 921.84,635.30 922.34,635.60 919.44,642.80 918.64,642.80"/>
<polygon class="ck" points="939.20,639.60 940.00,639.00 942.00,641.00 944.80,635.30 945.30,635.60 942.40,642.80 941.60,642.80"/>
<polygon class="ck" points="962.15,639.60 962.95,639.00 964.95,641.00 967.75,635.30 968.25,635.60 965.35,642.80 964.55,642.80"/>
<polygon class="ck" points="985.11,639.60 985.91,639.00 987.91,641.00 990.71,635.30 991.21,635.60 988.31,642.80 987.51,642.80"/>
<polygon class="ck" points="1008.07,639.60 1008.87,639.00 1010.87,641.00 1013.67,635.30 1014.17,635.60 1011.27,642.80 1010.47,642.80"/>
<polygon class="ck" points="1076.95,639.60 1077.75,639.00 1079.75,641.00 1082.55,635.30 1083.05,635.60 1080.15,642.80 1079.35,642.80"/>
<text transform="translate(465.35 659.67) scale(0.86 1)" class="tn">18</text>
<circle class="st" cx="562.15" cy="656.07" r="1.35"/>
<polygon class="ck" points="588.60,656.87 589.40,656.27 591.40,658.27 594.20,652.57 594.70,652.87 591.80,660.07 591.00,660.07"/>
<polygon class="ck" points="617.78,656.87 618.58,656.27 620.58,658.27 623.38,652.57 623.88,652.87 620.98,660.07 620.18,660.07"/>
<polygon class="ck" points="640.74,656.87 641.54,656.27 643.54,658.27 646.34,652.57 646.84,652.87 643.94,660.07 643.14,660.07"/>
<polygon class="ck" points="663.70,656.87 664.50,656.27 666.50,658.27 669.30,652.57 669.80,652.87 666.90,660.07 666.10,660.07"/>
<polygon class="ck" points="686.65,656.87 687.45,656.27 689.45,658.27 692.25,652.57 692.75,652.87 689.85,660.07 689.05,660.07"/>
<polygon class="ck" points="709.61,656.87 710.41,656.27 712.41,658.27 715.21,652.57 715.71,652.87 712.81,660.07 712.01,660.07"/>
<polygon class="ck" points="732.57,656.87 733.37,656.27 735.37,658.27 738.17,652.57 738.67,652.87 735.77,660.07 734.97,660.07"/>
<polygon class="ck" points="755.53,656.87 756.33,656.27 758.33,658.27 761.13,652.57 761.63,652.87 758.73,660.07 757.93,660.07"/>
<polygon class="ck" points="778.49,656.87 779.29,656.27 781.29,658.27 784.09,652.57 784.59,652.87 781.69,660.07 780.89,660.07"/>
<polygon class="ck" points="801.45,656.87 802.25,656.27 804.25,658.27 807.05,652.57 807.55,652.87 804.65,660.07 803.85,660.07"/>
<polygon class="ck" points="824.40,656.87 825.20,656.27 827.20,658.27 830.00,652.57 830.50,652.87 827.60,660.07 826.80,660.07"/>
<polygon class="ck" points="847.36,656.87 848.16,656.27 850.16,658.27 852.96,652.57 853.46,652.87 850.56,660.07 849.76,660.07"/>
<polygon class="ck" points="870.32,656.87 871.12,656.27 873.12,658.27 875.92,652.57 876.42,652.87 873.52,660.07 872.72,660.07"/>
<polygon class="ck" points="916.24,656.87 917.04,656.27 919.04,658.27 921.84,652.57 922.34,652.87 919.44,660.07 918.64,660.07"/>
<polygon class="ck" points="939.20,656.87 940.00,656.27 942.00,658.27 944.80,652.57 945.30,652.87 942.40,660.07 941.60,660.07"/>
<polygon class="ck" points="962.15,656.87 962.95,656.27 964.95,658.27 967.75,652.57 968.25,652.87 965.35,660.07 964.55,660.07"/>
<polygon class="ck" points="985.11,656.87 985.91,656.27 987.91,658.27 990.71,652.57 991.21,652.87 988.31,660.07 987.51,660.07"/>
<text transform="translate(465.35 676.93) scale(0.86 1)" class="tn">20</text>
<circle class="st" cx="562.15" cy="673.33" r="1.35"/>
<polygon class="ck" points="588.60,674.13 589.40,673.53 591.40,675.53 594.20,669.83 594.70,670.13 591.80,677.33 591.00,677.33"/>
<polygon class="ck" points="617.78,674.13 618.58,673.53 620.58,675.53 623.38,669.83 623.88,670.13 620.98,677.33 620.18,677.33"/>
<polygon class="ck" points="640.74,674.13 641.54,673.53 643.54,675.53 646.34,669.83 646.84,670.13 643.94,677.33 643.14,677.33"/>
<polygon class="ck" points="663.70,674.13 664.50,673.53 666.50,675.53 669.30,669.83 669.80,670.13 666.90,677.33 666.10,677.33"/>
<polygon class="ck" points="686.65,674.13 687.45,673.53 689.45,675.53 692.25,669.83 692.75,670.13 689.85,677.33 689.05,677.33"/>
<polygon class="ck" points="709.61,674.13 710.41,673.53 712.41,675.53 715.21,669.83 715.71,670.13 712.81,677.33 712.01,677.33"/>
<polygon class="ck" points="732.57,674.13 733.37,673.53 735.37,675.53 738.17,669.83 738.67,670.13 735.77,677.33 734.97,677.33"/>
<polygon class="ck" points="755.53,674.13 756.33,673.53 758.33,675.53 761.13,669.83 761.63,670.13 758.73,677.33 757.93,677.33"/>
<polygon class="ck" points="778.49,674.13 779.29,673.53 781.29,675.53 784.09,669.83 784.59,670.13 781.69,677.33 780.89,677.33"/>
<polygon class="ck" points="801.45,674.13 802.25,673.53 804.25,675.53 807.05,669.83 807.55,670.13 804.65,677.33 803.85,677.33"/>
<polygon class="ck" points="824.40,674.13 825.20,673.53 827.20,675.53 830.00,669.83 830.50,670.13 827.60,677.33 826.80,677.33"/>
<polygon class="ck" points="847.36,674.13 848.16,673.53 850.16,675.53 852.96,669.83 853.46,670.13 850.56,677.33 849.76,677.33"/>
<polygon class="ck" points="916.24,674.13 917.04,673.53 919.04,675.53 921.84,669.83 922.34,670.13 919.44,677.33 918.64,677.33"/>
<polygon class="ck" points="962.15,674.13 962.95,673.53 964.95,675.53 967.75,669.83 968.25,670.13 965.35,677.33 964.55,677.33"/>
<polygon class="ck" points="985.11,674.13 985.91,673.53 987.91,675.53 990.71,669.83 991.21,670.13 988.31,677.33 987.51,677.33"/>
<text transform="translate(465.35 694.20) scale(0.86 1)" class="tn">22</text>
<circle class="st" cx="562.15" cy="690.60" r="1.35"/>
<polygon class="ck" points="588.60,691.40 589.40,690.80 591.40,692.80 594.20,687.10 594.70,687.40 591.80,694.60 591.00,694.60"/>
<polygon class="ck" points="617.78,691.40 618.58,690.80 620.58,692.80 623.38,687.10 623.88,687.40 620.98,694.60 620.18,694.60"/>
<polygon class="ck" points="640.74,691.40 641.54,690.80 643.54,692.80 646.34,687.10 646.84,687.40 643.94,694.60 643.14,694.60"/>
<polygon class="ck" points="663.70,691.40 664.50,690.80 666.50,692.80 669.30,687.10 669.80,687.40 666.90,694.60 666.10,694.60"/>
<polygon class="ck" points="686.65,691.40 687.45,690.80 689.45,692.80 692.25,687.10 692.75,687.40 689.85,694.60 689.05,694.60"/>
<polygon class="ck" points="709.61,691.40 710.41,690.80 712.41,692.80 715.21,687.10 715.71,687.40 712.81,694.60 712.01,694.60"/>
<polygon class="ck" points="732.57,691.40 733.37,690.80 735.37,692.80 738.17,687.10 738.67,687.40 735.77,694.60 734.97,694.60"/>
<polygon class="ck" points="755.53,691.40 756.33,690.80 758.33,692.80 761.13,687.10 761.63,687.40 758.73,694.60 757.93,694.60"/>
<polygon class="ck" points="778.49,691.40 779.29,690.80 781.29,692.80 784.09,687.10 784.59,687.40 781.69,694.60 780.89,694.60"/>
<polygon class="ck" points="801.45,691.40 802.25,690.80 804.25,692.80 807.05,687.10 807.55,687.40 804.65,694.60 803.85,694.60"/>
<polygon class="ck" points="824.40,691.40 825.20,690.80 827.20,692.80 830.00,687.10 830.50,687.40 827.60,694.60 826.80,694.60"/>
<polygon class="ck" points="847.36,691.40 848.16,690.80 850.16,692.80 852.96,687.10 853.46,687.40 850.56,694.60 849.76,694.60"/>
<text transform="translate(465.35 711.47) scale(0.86 1)" class="tn">25</text>
<circle class="st" cx="562.15" cy="707.87" r="1.35"/>
<polygon class="ck" points="588.60,708.67 589.40,708.07 591.40,710.07 594.20,704.37 594.70,704.67 591.80,711.87 591.00,711.87"/>
<polygon class="ck" points="617.78,708.67 618.58,708.07 620.58,710.07 623.38,704.37 623.88,704.67 620.98,711.87 620.18,711.87"/>
<polygon class="ck" points="640.74,708.67 641.54,708.07 643.54,710.07 646.34,704.37 646.84,704.67 643.94,711.87 643.14,711.87"/>
<polygon class="ck" points="663.70,708.67 664.50,708.07 666.50,710.07 669.30,704.37 669.80,704.67 666.90,711.87 666.10,711.87"/>
<polygon class="ck" points="686.65,708.67 687.45,708.07 689.45,710.07 692.25,704.37 692.75,704.67 689.85,711.87 689.05,711.87"/>
<polygon class="ck" points="709.61,708.67 710.41,708.07 712.41,710.07 715.21,704.37 715.71,704.67 712.81,711.87 712.01,711.87"/>
<polygon class="ck" points="732.57,708.67 733.37,708.07 735.37,710.07 738.17,704.37 738.67,704.67 735.77,711.87 734.97,711.87"/>
<polygon class="ck" points="755.53,708.67 756.33,708.07 758.33,710.07 761.13,704.37 761.63,704.67 758.73,711.87 757.93,711.87"/>
<polygon class="ck" points="778.49,708.67 779.29,708.07 781.29,710.07 784.09,704.37 784.59,704.67 781.69,711.87 780.89,711.87"/>
<polygon class="ck" points="801.45,708.67 802.25,708.07 804.25,710.07 807.05,704.37 807.55,704.67 804.65,711.87 803.85,711.87"/>
<polygon class="ck" points="824.40,708.67 825.20,708.07 827.20,710.07 830.00,704.37 830.50,704.67 827.60,711.87 826.80,711.87"/>
<text transform="translate(465.35 728.73) scale(0.86 1)" class="tn">28</text>
<circle class="st" cx="562.15" cy="725.13" r="1.35"/>
<polygon class="ck" points="588.60,725.93 589.40,725.33 591.40,727.33 594.20,721.63 594.70,721.93 591.80,729.13 591.00,729.13"/>
<polygon class="ck" points="617.78,725.93 618.58,725.33 620.58,727.33 623.38,721.63 623.88,721.93 620.98,729.13 620.18,729.13"/>
<polygon class="ck" points="640.74,725.93 641.54,725.33 643.54,727.33 646.34,721.63 646.84,721.93 643.94,729.13 643.14,729.13"/>
<polygon class="ck" points="663.70,725.93 664.50,725.33 666.50,727.33 669.30,721.63 669.80,721.93 666.90,729.13 666.10,729.13"/>
<polygon class="ck" points="686.65,725.93 687.45,725.33 689.45,727.33 692.25,721.63 692.75,721.93 689.85,729.13 689.05,729.13"/>
<polygon class="ck" points="709.61,725.93 710.41,725.33 712.41,727.33 715.21,721.63 715.71,721.93 712.81,729.13 712.01,729.13"/>
<polygon class="ck" points="732.57,725.93 733.37,725.33 735.37,727.33 738.17,721.63 738.67,721.93 735.77,729.13 734.97,729.13"/>
<polygon class="ck" points="755.53,725.93 756.33,725.33 758.33,727.33 761.13,721.63 761.63,721.93 758.73,729.13 757.93,729.13"/>
<polygon class="ck" points="778.49,725.93 779.29,725.33 781.29,727.33 784.09,721.63 784.59,721.93 781.69,729.13 780.89,729.13"/>
<polygon class="ck" points="801.45,725.93 802.25,725.33 804.25,727.33 807.05,721.63 807.55,721.93 804.65,729.13 803.85,729.13"/>
<polygon class="ck" points="824.40,725.93 825.20,725.33 827.20,727.33 830.00,721.63 830.50,721.93 827.60,729.13 826.80,729.13"/>
<text transform="translate(465.35 746.00) scale(0.86 1)" class="tn">30</text>
<circle class="st" cx="562.15" cy="742.40" r="1.35"/>
<polygon class="ck" points="588.60,743.20 589.40,742.60 591.40,744.60 594.20,738.90 594.70,739.20 591.80,746.40 591.00,746.40"/>
<polygon class="ck" points="617.78,743.20 618.58,742.60 620.58,744.60 623.38,738.90 623.88,739.20 620.98,746.40 620.18,746.40"/>
<polygon class="ck" points="640.74,743.20 641.54,742.60 643.54,744.60 646.34,738.90 646.84,739.20 643.94,746.40 643.14,746.40"/>
<polygon class="ck" points="663.70,743.20 664.50,742.60 666.50,744.60 669.30,738.90 669.80,739.20 666.90,746.40 666.10,746.40"/>
<polygon class="ck" points="686.65,743.20 687.45,742.60 689.45,744.60 692.25,738.90 692.75,739.20 689.85,746.40 689.05,746.40"/>
<polygon class="ck" points="709.61,743.20 710.41,742.60 712.41,744.60 715.21,738.90 715.71,739.20 712.81,746.40 712.01,746.40"/>
<polygon class="ck" points="732.57,743.20 733.37,742.60 735.37,744.60 738.17,738.90 738.67,739.20 735.77,746.40 734.97,746.40"/>
<polygon class="ck" points="778.49,743.20 779.29,742.60 781.29,744.60 784.09,738.90 784.59,739.20 781.69,746.40 780.89,746.40"/>
<polygon class="ck" points="824.40,743.20 825.20,742.60 827.20,744.60 830.00,738.90 830.50,739.20 827.60,746.40 826.80,746.40"/>
<text transform="translate(465.35 763.27) scale(0.86 1)" class="tn">32</text>
<circle class="st" cx="562.15" cy="759.67" r="1.35"/>
<polygon class="ck" points="588.60,760.47 589.40,759.87 591.40,761.87 594.20,756.17 594.70,756.47 591.80,763.67 591.00,763.67"/>
<polygon class="ck" points="617.78,760.47 618.58,759.87 620.58,761.87 623.38,756.17 623.88,756.47 620.98,763.67 620.18,763.67"/>
<polygon class="ck" points="640.74,760.47 641.54,759.87 643.54,761.87 646.34,756.17 646.84,756.47 643.94,763.67 643.14,763.67"/>
<polygon class="ck" points="663.70,760.47 664.50,759.87 666.50,761.87 669.30,756.17 669.80,756.47 666.90,763.67 666.10,763.67"/>
<polygon class="ck" points="686.65,760.47 687.45,759.87 689.45,761.87 692.25,756.17 692.75,756.47 689.85,763.67 689.05,763.67"/>
<polygon class="ck" points="709.61,760.47 710.41,759.87 712.41,761.87 715.21,756.17 715.71,756.47 712.81,763.67 712.01,763.67"/>
<polygon class="ck" points="732.57,760.47 733.37,759.87 735.37,761.87 738.17,756.17 738.67,756.47 735.77,763.67 734.97,763.67"/>
<polygon class="ck" points="778.49,760.47 779.29,759.87 781.29,761.87 784.09,756.17 784.59,756.47 781.69,763.67 780.89,763.67"/>
<polygon class="ck" points="824.40,760.47 825.20,759.87 827.20,761.87 830.00,756.17 830.50,756.47 827.60,763.67 826.80,763.67"/>
<text x="517" y="414.5" class="thd">规格</text>
<text x="482" y="431" class="thd">壁厚</text>
<text x="491.5" y="617" class="tn">b&lt;A&#189;</text>
<text x="539.5" y="617" class="tn">d&#8804;b</text>
<text x="516.2" y="600.5" class="tz">任</text>
<text x="516.2" y="611.5" class="tz">意</text>
<text x="516.2" y="622.5" class="tz">定</text>
<text x="516.2" y="633.5" class="tz">制</text>
</svg>
<div class="abs" id="note" style="left:458px;top:773px;font-size:8.2px;color:#222;line-height:11px;">注：本表格规格和壁厚单位毫米（mm）。</div>
<div class="abs" id="f1" style="left:923px;top:792px;font-size:13.2px;letter-spacing:0.3px;font-weight:500;-webkit-text-stroke:0.25px #222;color:#222;line-height:18px;">装配式精制钢系统幕墙材料集成供应商</div>
<div class="abs" id="f2" style="left:923px;top:807.5px;font-size:13.2px;font-weight:500;-webkit-text-stroke:0.25px #222;color:#222;line-height:18px;">防伪中心</div><div class="abs" id="f2c" style="left:979px;top:807.5px;font-size:13.2px;font-weight:bold;color:#222;line-height:18px;">:</div><div class="abs" id="f2u" style="left:985px;top:807.5px;font-size:13.2px;font-weight:bold;color:#222;line-height:18px;transform-origin:0 0;transform:scaleX(0.875);">www.strong-sys.com/fangwei/</div>
<div class="wm" style="left:-103.4px;top:-40.2px"><span class="w1">西创系统</span><span class="wr">&#174;</span><span class="w2">STRONG | SYSTEM</span><span class="w3">400-860-6978</span></div>
<div class="wm" style="left:10.2px;top:-40.2px"><span class="w1">西创系统</span><span class="wr">&#174;</span><span class="w2">STRONG | SYSTEM</span><span class="w3">400-860-6978</span></div>
<div class="wm" style="left:123.8px;top:-40.2px"><span class="w1">西创系统</span><span class="wr">&#174;</span><span class="w2">STRONG | SYSTEM</span><span class="w3">400-860-6978</span></div>
<div class="wm" style="left:237.4px;top:-40.2px"><span class="w1">西创系统</span><span class="wr">&#174;</span><span class="w2">STRONG | SYSTEM</span><span class="w3">400-860-6978</span></div>
<div class="wm" style="left:351.0px;top:-40.2px"><span class="w1">西创系统</span><span class="wr">&#174;</span><span class="w2">STRONG | SYSTEM</span><span class="w3">400-860-6978</span></div>
<div class="wm" style="left:464.6px;top:-40.2px"><span class="w1">西创系统</span><span class="wr">&#174;</span><span class="w2">STRONG | SYSTEM</span><span class="w3">400-860-6978</span></div>
<div class="wm" style="left:578.2px;top:-40.2px"><span class="w1">西创系统</span><span class="wr">&#174;</span><span class="w2">STRONG | SYSTEM</span><span class="w3">400-860-6978</span></div>
<div class="wm" style="left:691.8px;top:-40.2px"><span class="w1">西创系统</span><span class="wr">&#174;</span><span class="w2">STRONG | SYSTEM</span><span class="w3">400-860-6978</span></div>
<div class="wm" style="left:805.4px;top:-40.2px"><span class="w1">西创系统</span><span class="wr">&#174;</span><span class="w2">STRONG | SYSTEM</span><span class="w3">400-860-6978</span></div>
<div class="wm" style="left:919.0px;top:-40.2px"><span class="w1">西创系统</span><span class="wr">&#174;</span><span class="w2">STRONG | SYSTEM</span><span class="w3">400-860-6978</span></div>
<div class="wm" style="left:1032.6px;top:-40.2px"><span class="w1">西创系统</span><span class="wr">&#174;</span><span class="w2">STRONG | SYSTEM</span><span class="w3">400-860-6978</span></div>
<div class="wm" style="left:1146.2px;top:-40.2px"><span class="w1">西创系统</span><span class="wr">&#174;</span><span class="w2">STRONG | SYSTEM</span><span class="w3">400-860-6978</span></div>
<div class="wm" style="left:-67.7px;top:67.1px"><span class="w1">西创系统</span><span class="wr">&#174;</span><span class="w2">STRONG | SYSTEM</span><span class="w3">400-860-6978</span></div>
<div class="wm" style="left:45.9px;top:67.1px"><span class="w1">西创系统</span><span class="wr">&#174;</span><span class="w2">STRONG | SYSTEM</span><span class="w3">400-860-6978</span></div>
<div class="wm" style="left:159.5px;top:67.1px"><span class="w1">西创系统</span><span class="wr">&#174;</span><span class="w2">STRONG | SYSTEM</span><span class="w3">400-860-6978</span></div>
<div class="wm" style="left:273.1px;top:67.1px"><span class="w1">西创系统</span><span class="wr">&#174;</span><span class="w2">STRONG | SYSTEM</span><span class="w3">400-860-6978</span></div>
<div class="wm" style="left:386.7px;top:67.1px"><span class="w1">西创系统</span><span class="wr">&#174;</span><span class="w2">STRONG | SYSTEM</span><span class="w3">400-860-6978</span></div>
<div class="wm" style="left:500.3px;top:67.1px"><span class="w1">西创系统</span><span class="wr">&#174;</span><span class="w2">STRONG | SYSTEM</span><span class="w3">400-860-6978</span></div>
<div class="wm" style="left:613.9px;top:67.1px"><span class="w1">西创系统</span><span class="wr">&#174;</span><span class="w2">STRONG | SYSTEM</span><span class="w3">400-860-6978</span></div>
<div class="wm" style="left:727.5px;top:67.1px"><span class="w1">西创系统</span><span class="wr">&#174;</span><span class="w2">STRONG | SYSTEM</span><span class="w3">400-860-6978</span></div>
<div class="wm" style="left:841.1px;top:67.1px"><span class="w1">西创系统</span><span class="wr">&#174;</span><span class="w2">STRONG | SYSTEM</span><span class="w3">400-860-6978</span></div>
<div class="wm" style="left:954.7px;top:67.1px"><span class="w1">西创系统</span><span class="wr">&#174;</span><span class="w2">STRONG | SYSTEM</span><span class="w3">400-860-6978</span></div>
<div class="wm" style="left:1068.3px;top:67.1px"><span class="w1">西创系统</span><span class="wr">&#174;</span><span class="w2">STRONG | SYSTEM</span><span class="w3">400-860-6978</span></div>
<div class="wm" style="left:1181.9px;top:67.1px"><span class="w1">西创系统</span><span class="wr">&#174;</span><span class="w2">STRONG | SYSTEM</span><span class="w3">400-860-6978</span></div>
<div class="wm" style="left:-103.4px;top:175.8px"><span class="w1">西创系统</span><span class="wr">&#174;</span><span class="w2">STRONG | SYSTEM</span><span class="w3">400-860-6978</span></div>
<div class="wm" style="left:10.2px;top:175.8px"><span class="w1">西创系统</span><span class="wr">&#174;</span><span class="w2">STRONG | SYSTEM</span><span class="w3">400-860-6978</span></div>
<div class="wm" style="left:123.8px;top:175.8px"><span class="w1">西创系统</span><span class="wr">&#174;</span><span class="w2">STRONG | SYSTEM</span><span class="w3">400-860-6978</span></div>
<div class="wm" style="left:237.4px;top:175.8px"><span class="w1">西创系统</span><span class="wr">&#174;</span><span class="w2">STRONG | SYSTEM</span><span class="w3">400-860-6978</span></div>
<div class="wm" style="left:351.0px;top:175.8px"><span class="w1">西创系统</span><span class="wr">&#174;</span><span class="w2">STRONG | SYSTEM</span><span class="w3">400-860-6978</span></div>
<div class="wm" style="left:464.6px;top:175.8px"><span class="w1">西创系统</span><span class="wr">&#174;</span><span class="w2">STRONG | SYSTEM</span><span class="w3">400-860-6978</span></div>
<div class="wm" style="left:578.2px;top:175.8px"><span class="w1">西创系统</span><span class="wr">&#174;</span><span class="w2">STRONG | SYSTEM</span><span class="w3">400-860-6978</span></div>
<div class="wm" style="left:691.8px;top:175.8px"><span class="w1">西创系统</span><span class="wr">&#174;</span><span class="w2">STRONG | SYSTEM</span><span class="w3">400-860-6978</span></div>
<div class="wm" style="left:805.4px;top:175.8px"><span class="w1">西创系统</span><span class="wr">&#174;</span><span class="w2">STRONG | SYSTEM</span><span class="w3">400-860-6978</span></div>
<div class="wm" style="left:919.0px;top:175.8px"><span class="w1">西创系统</span><span class="wr">&#174;</span><span class="w2">STRONG | SYSTEM</span><span class="w3">400-860-6978</span></div>
<div class="wm" style="left:1032.6px;top:175.8px"><span class="w1">西创系统</span><span class="wr">&#174;</span><span class="w2">STRONG | SYSTEM</span><span class="w3">400-860-6978</span></div>
<div class="wm" style="left:1146.2px;top:175.8px"><span class="w1">西创系统</span><span class="wr">&#174;</span><span class="w2">STRONG | SYSTEM</span><span class="w3">400-860-6978</span></div>
<div class="wm" style="left:-67.7px;top:293.7px"><span class="w1">西创系统</span><span class="wr">&#174;</span><span class="w2">STRONG | SYSTEM</span><span class="w3">400-860-6978</span></div>
<div class="wm" style="left:45.9px;top:293.7px"><span class="w1">西创系统</span><span class="wr">&#174;</span><span class="w2">STRONG | SYSTEM</span><span class="w3">400-860-6978</span></div>
<div class="wm" style="left:159.5px;top:293.7px"><span class="w1">西创系统</span><span class="wr">&#174;</span><span class="w2">STRONG | SYSTEM</span><span class="w3">400-860-6978</span></div>
<div class="wm" style="left:273.1px;top:293.7px"><span class="w1">西创系统</span><span class="wr">&#174;</span><span class="w2">STRONG | SYSTEM</span><span class="w3">400-860-6978</span></div>
<div class="wm" style="left:386.7px;top:293.7px"><span class="w1">西创系统</span><span class="wr">&#174;</span><span class="w2">STRONG | SYSTEM</span><span class="w3">400-860-6978</span></div>
<div class="wm" style="left:500.3px;top:293.7px"><span class="w1">西创系统</span><span class="wr">&#174;</span><span class="w2">STRONG | SYSTEM</span><span class="w3">400-860-6978</span></div>
<div class="wm" style="left:613.9px;top:293.7px"><span class="w1">西创系统</span><span class="wr">&#174;</span><span class="w2">STRONG | SYSTEM</span><span class="w3">400-860-6978</span></div>
<div class="wm" style="left:727.5px;top:293.7px"><span class="w1">西创系统</span><span class="wr">&#174;</span><span class="w2">STRONG | SYSTEM</span><span class="w3">400-860-6978</span></div>
<div class="wm" style="left:841.1px;top:293.7px"><span class="w1">西创系统</span><span class="wr">&#174;</span><span class="w2">STRONG | SYSTEM</span><span class="w3">400-860-6978</span></div>
<div class="wm" style="left:954.7px;top:293.7px"><span class="w1">西创系统</span><span class="wr">&#174;</span><span class="w2">STRONG | SYSTEM</span><span class="w3">400-860-6978</span></div>
<div class="wm" style="left:1068.3px;top:293.7px"><span class="w1">西创系统</span><span class="wr">&#174;</span><span class="w2">STRONG | SYSTEM</span><span class="w3">400-860-6978</span></div>
<div class="wm" style="left:1181.9px;top:293.7px"><span class="w1">西创系统</span><span class="wr">&#174;</span><span class="w2">STRONG | SYSTEM</span><span class="w3">400-860-6978</span></div>
<div class="wm" style="left:-103.4px;top:402.0px"><span class="w1">西创系统</span><span class="wr">&#174;</span><span class="w2">STRONG | SYSTEM</span><span class="w3">400-860-6978</span></div>
<div class="wm" style="left:10.2px;top:402.0px"><span class="w1">西创系统</span><span class="wr">&#174;</span><span class="w2">STRONG | SYSTEM</span><span class="w3">400-860-6978</span></div>
<div class="wm" style="left:123.8px;top:402.0px"><span class="w1">西创系统</span><span class="wr">&#174;</span><span class="w2">STRONG | SYSTEM</span><span class="w3">400-860-6978</span></div>
<div class="wm" style="left:237.4px;top:402.0px"><span class="w1">西创系统</span><span class="wr">&#174;</span><span class="w2">STRONG | SYSTEM</span><span class="w3">400-860-6978</span></div>
<div class="wm" style="left:351.0px;top:402.0px"><span class="w1">西创系统</span><span class="wr">&#174;</span><span class="w2">STRONG | SYSTEM</span><span class="w3">400-860-6978</span></div>
<div class="wm" style="left:464.6px;top:402.0px"><span class="w1">西创系统</span><span class="wr">&#174;</span><span class="w2">STRONG | SYSTEM</span><span class="w3">400-860-6978</span></div>
<div class="wm" style="left:578.2px;top:402.0px"><span class="w1">西创系统</span><span class="wr">&#174;</span><span class="w2">STRONG | SYSTEM</span><span class="w3">400-860-6978</span></div>
<div class="wm" style="left:691.8px;top:402.0px"><span class="w1">西创系统</span><span class="wr">&#174;</span><span class="w2">STRONG | SYSTEM</span><span class="w3">400-860-6978</span></div>
<div class="wm" style="left:805.4px;top:402.0px"><span class="w1">西创系统</span><span class="wr">&#174;</span><span class="w2">STRONG | SYSTEM</span><span class="w3">400-860-6978</span></div>
<div class="wm" style="left:919.0px;top:402.0px"><span class="w1">西创系统</span><span class="wr">&#174;</span><span class="w2">STRONG | SYSTEM</span><span class="w3">400-860-6978</span></div>
<div class="wm" style="left:1032.6px;top:402.0px"><span class="w1">西创系统</span><span class="wr">&#174;</span><span class="w2">STRONG | SYSTEM</span><span class="w3">400-860-6978</span></div>
<div class="wm" style="left:1146.2px;top:402.0px"><span class="w1">西创系统</span><span class="wr">&#174;</span><span class="w2">STRONG | SYSTEM</span><span class="w3">400-860-6978</span></div>
<div class="wm" style="left:-67.7px;top:520.3px"><span class="w1">西创系统</span><span class="wr">&#174;</span><span class="w2">STRONG | SYSTEM</span><span class="w3">400-860-6978</span></div>
<div class="wm" style="left:45.9px;top:520.3px"><span class="w1">西创系统</span><span class="wr">&#174;</span><span class="w2">STRONG | SYSTEM</span><span class="w3">400-860-6978</span></div>
<div class="wm" style="left:159.5px;top:520.3px"><span class="w1">西创系统</span><span class="wr">&#174;</span><span class="w2">STRONG | SYSTEM</span><span class="w3">400-860-6978</span></div>
<div class="wm" style="left:273.1px;top:520.3px"><span class="w1">西创系统</span><span class="wr">&#174;</span><span class="w2">STRONG | SYSTEM</span><span class="w3">400-860-6978</span></div>
<div class="wm" style="left:386.7px;top:520.3px"><span class="w1">西创系统</span><span class="wr">&#174;</span><span class="w2">STRONG | SYSTEM</span><span class="w3">400-860-6978</span></div>
<div class="wm" style="left:500.3px;top:520.3px"><span class="w1">西创系统</span><span class="wr">&#174;</span><span class="w2">STRONG | SYSTEM</span><span class="w3">400-860-6978</span></div>
<div class="wm" style="left:613.9px;top:520.3px"><span class="w1">西创系统</span><span class="wr">&#174;</span><span class="w2">STRONG | SYSTEM</span><span class="w3">400-860-6978</span></div>
<div class="wm" style="left:727.5px;top:520.3px"><span class="w1">西创系统</span><span class="wr">&#174;</span><span class="w2">STRONG | SYSTEM</span><span class="w3">400-860-6978</span></div>
<div class="wm" style="left:841.1px;top:520.3px"><span class="w1">西创系统</span><span class="wr">&#174;</span><span class="w2">STRONG | SYSTEM</span><span class="w3">400-860-6978</span></div>
<div class="wm" style="left:954.7px;top:520.3px"><span class="w1">西创系统</span><span class="wr">&#174;</span><span class="w2">STRONG | SYSTEM</span><span class="w3">400-860-6978</span></div>
<div class="wm" style="left:1068.3px;top:520.3px"><span class="w1">西创系统</span><span class="wr">&#174;</span><span class="w2">STRONG | SYSTEM</span><span class="w3">400-860-6978</span></div>
<div class="wm" style="left:1181.9px;top:520.3px"><span class="w1">西创系统</span><span class="wr">&#174;</span><span class="w2">STRONG | SYSTEM</span><span class="w3">400-860-6978</span></div>
<div class="wm" style="left:-103.4px;top:628.2px"><span class="w1">西创系统</span><span class="wr">&#174;</span><span class="w2">STRONG | SYSTEM</span><span class="w3">400-860-6978</span></div>
<div class="wm" style="left:10.2px;top:628.2px"><span class="w1">西创系统</span><span class="wr">&#174;</span><span class="w2">STRONG | SYSTEM</span><span class="w3">400-860-6978</span></div>
<div class="wm" style="left:123.8px;top:628.2px"><span class="w1">西创系统</span><span class="wr">&#174;</span><span class="w2">STRONG | SYSTEM</span><span class="w3">400-860-6978</span></div>
<div class="wm" style="left:237.4px;top:628.2px"><span class="w1">西创系统</span><span class="wr">&#174;</span><span class="w2">STRONG | SYSTEM</span><span class="w3">400-860-6978</span></div>
<div class="wm" style="left:351.0px;top:628.2px"><span class="w1">西创系统</span><span class="wr">&#174;</span><span class="w2">STRONG | SYSTEM</span><span class="w3">400-860-6978</span></div>
<div class="wm" style="left:464.6px;top:628.2px"><span class="w1">西创系统</span><span class="wr">&#174;</span><span class="w2">STRONG | SYSTEM</span><span class="w3">400-860-6978</span></div>
<div class="wm" style="left:578.2px;top:628.2px"><span class="w1">西创系统</span><span class="wr">&#174;</span><span class="w2">STRONG | SYSTEM</span><span class="w3">400-860-6978</span></div>
<div class="wm" style="left:691.8px;top:628.2px"><span class="w1">西创系统</span><span class="wr">&#174;</span><span class="w2">STRONG | SYSTEM</span><span class="w3">400-860-6978</span></div>
<div class="wm" style="left:805.4px;top:628.2px"><span class="w1">西创系统</span><span class="wr">&#174;</span><span class="w2">STRONG | SYSTEM</span><span class="w3">400-860-6978</span></div>
<div class="wm" style="left:919.0px;top:628.2px"><span class="w1">西创系统</span><span class="wr">&#174;</span><span class="w2">STRONG | SYSTEM</span><span class="w3">400-860-6978</span></div>
<div class="wm" style="left:1032.6px;top:628.2px"><span class="w1">西创系统</span><span class="wr">&#174;</span><span class="w2">STRONG | SYSTEM</span><span class="w3">400-860-6978</span></div>
<div class="wm" style="left:1146.2px;top:628.2px"><span class="w1">西创系统</span><span class="wr">&#174;</span><span class="w2">STRONG | SYSTEM</span><span class="w3">400-860-6978</span></div>
<div class="wm" style="left:-67.7px;top:746.9px"><span class="w1">西创系统</span><span class="wr">&#174;</span><span class="w2">STRONG | SYSTEM</span><span class="w3">400-860-6978</span></div>
<div class="wm" style="left:45.9px;top:746.9px"><span class="w1">西创系统</span><span class="wr">&#174;</span><span class="w2">STRONG | SYSTEM</span><span class="w3">400-860-6978</span></div>
<div class="wm" style="left:159.5px;top:746.9px"><span class="w1">西创系统</span><span class="wr">&#174;</span><span class="w2">STRONG | SYSTEM</span><span class="w3">400-860-6978</span></div>
<div class="wm" style="left:273.1px;top:746.9px"><span class="w1">西创系统</span><span class="wr">&#174;</span><span class="w2">STRONG | SYSTEM</span><span class="w3">400-860-6978</span></div>
<div class="wm" style="left:386.7px;top:746.9px"><span class="w1">西创系统</span><span class="wr">&#174;</span><span class="w2">STRONG | SYSTEM</span><span class="w3">400-860-6978</span></div>
<div class="wm" style="left:500.3px;top:746.9px"><span class="w1">西创系统</span><span class="wr">&#174;</span><span class="w2">STRONG | SYSTEM</span><span class="w3">400-860-6978</span></div>
<div class="wm" style="left:613.9px;top:746.9px"><span class="w1">西创系统</span><span class="wr">&#174;</span><span class="w2">STRONG | SYSTEM</span><span class="w3">400-860-6978</span></div>
<div class="wm" style="left:727.5px;top:746.9px"><span class="w1">西创系统</span><span class="wr">&#174;</span><span class="w2">STRONG | SYSTEM</span><span class="w3">400-860-6978</span></div>
<div class="wm" style="left:841.1px;top:746.9px"><span class="w1">西创系统</span><span class="wr">&#174;</span><span class="w2">STRONG | SYSTEM</span><span class="w3">400-860-6978</span></div>
<div class="wm" style="left:954.7px;top:746.9px"><span class="w1">西创系统</span><span class="wr">&#174;</span><span class="w2">STRONG | SYSTEM</span><span class="w3">400-860-6978</span></div>
<div class="wm" style="left:1068.3px;top:746.9px"><span class="w1">西创系统</span><span class="wr">&#174;</span><span class="w2">STRONG | SYSTEM</span><span class="w3">400-860-6978</span></div>
<div class="wm" style="left:1181.9px;top:746.9px"><span class="w1">西创系统</span><span class="wr">&#174;</span><span class="w2">STRONG | SYSTEM</span><span class="w3">400-860-6978</span></div>
<div class="wm" style="left:-103.4px;top:854.4px"><span class="w1">西创系统</span><span class="wr">&#174;</span><span class="w2">STRONG | SYSTEM</span><span class="w3">400-860-6978</span></div>
<div class="wm" style="left:10.2px;top:854.4px"><span class="w1">西创系统</span><span class="wr">&#174;</span><span class="w2">STRONG | SYSTEM</span><span class="w3">400-860-6978</span></div>
<div class="wm" style="left:123.8px;top:854.4px"><span class="w1">西创系统</span><span class="wr">&#174;</span><span class="w2">STRONG | SYSTEM</span><span class="w3">400-860-6978</span></div>
<div class="wm" style="left:237.4px;top:854.4px"><span class="w1">西创系统</span><span class="wr">&#174;</span><span class="w2">STRONG | SYSTEM</span><span class="w3">400-860-6978</span></div>
<div class="wm" style="left:351.0px;top:854.4px"><span class="w1">西创系统</span><span class="wr">&#174;</span><span class="w2">STRONG | SYSTEM</span><span class="w3">400-860-6978</span></div>
<div class="wm" style="left:464.6px;top:854.4px"><span class="w1">西创系统</span><span class="wr">&#174;</span><span class="w2">STRONG | SYSTEM</span><span class="w3">400-860-6978</span></div>
<div class="wm" style="left:578.2px;top:854.4px"><span class="w1">西创系统</span><span class="wr">&#174;</span><span class="w2">STRONG | SYSTEM</span><span class="w3">400-860-6978</span></div>
<div class="wm" style="left:691.8px;top:854.4px"><span class="w1">西创系统</span><span class="wr">&#174;</span><span class="w2">STRONG | SYSTEM</span><span class="w3">400-860-6978</span></div>
<div class="wm" style="left:805.4px;top:854.4px"><span class="w1">西创系统</span><span class="wr">&#174;</span><span class="w2">STRONG | SYSTEM</span><span class="w3">400-860-6978</span></div>
<div class="wm" style="left:919.0px;top:854.4px"><span class="w1">西创系统</span><span class="wr">&#174;</span><span class="w2">STRONG | SYSTEM</span><span class="w3">400-860-6978</span></div>
<div class="wm" style="left:1032.6px;top:854.4px"><span class="w1">西创系统</span><span class="wr">&#174;</span><span class="w2">STRONG | SYSTEM</span><span class="w3">400-860-6978</span></div>
<div class="wm" style="left:1146.2px;top:854.4px"><span class="w1">西创系统</span><span class="wr">&#174;</span><span class="w2">STRONG | SYSTEM</span><span class="w3">400-860-6978</span></div>
</body></html>
